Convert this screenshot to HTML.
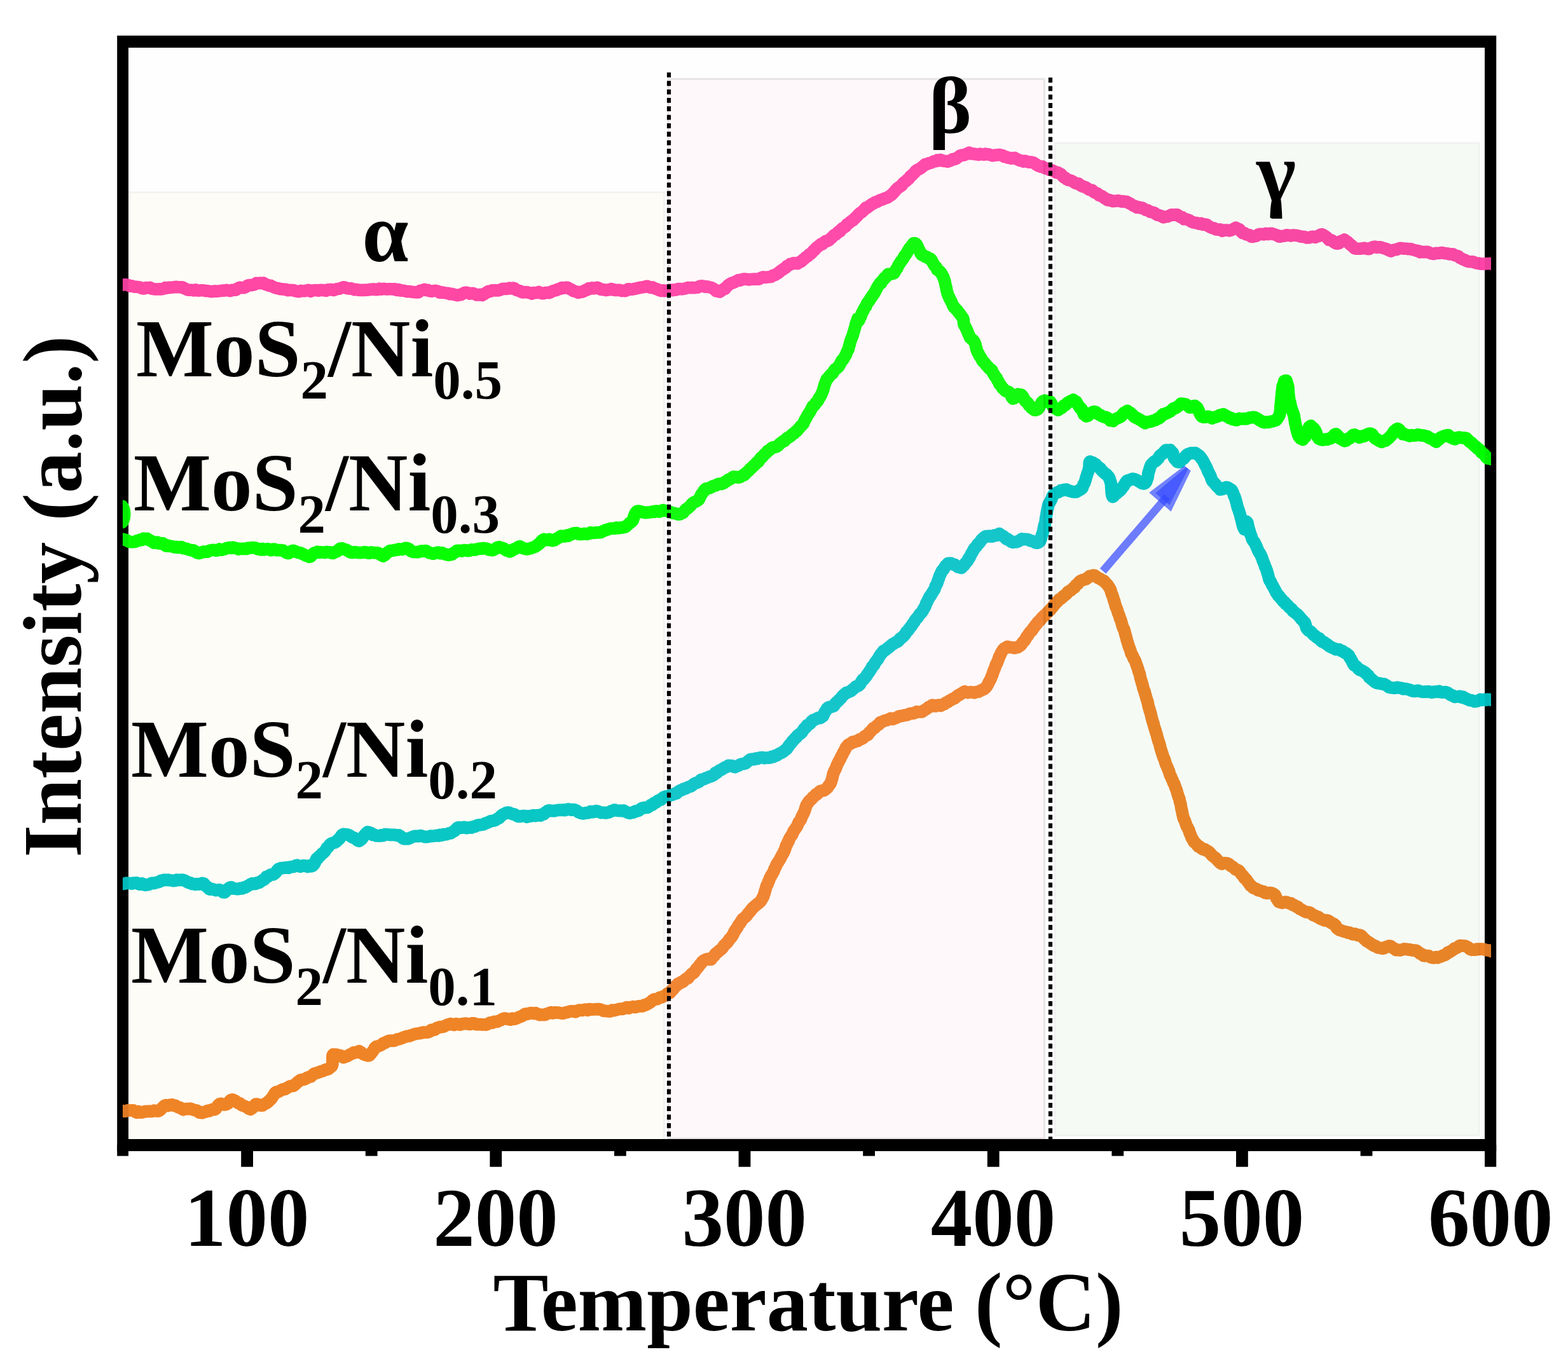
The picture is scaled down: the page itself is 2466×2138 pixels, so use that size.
<!DOCTYPE html>
<html lang="en"><head><meta charset="utf-8"><title>H2-TPR profiles</title>
<style>html,body{margin:0;padding:0;background:#fff;}body{width:2466px;height:2138px;overflow:hidden;}svg{display:block;}</style>
</head><body>
<svg width="2466" height="2138" viewBox="0 0 2466 2138">
<defs><clipPath id="plot"><rect x="193" y="65" width="2152" height="1737"/></clipPath><clipPath id="inner"><rect x="202" y="74.9" width="2133" height="1717.1"/></clipPath></defs>
<rect x="0" y="0" width="2466" height="2138" fill="#ffffff"/>
<rect x="193" y="65" width="2151" height="1736" fill="#fefefe"/>
<path fill="#000" fill-rule="evenodd" d="M184.2,55.9H2353.2V1811H184.2Z M202,74.9V1792H2335V74.9Z"/>
<g clip-path="url(#plot)" fill="none" stroke-linejoin="round" stroke-linecap="butt">
<path d="M181.0,1747.5 L182.3,1747.2 L185.4,1747.5 L189.4,1746.7 L193.0,1747.8 L195.8,1748.3 L198.6,1748.0 L201.4,1746.7 L204.3,1747.0 L207.1,1746.8 L209.8,1746.9 L212.5,1748.9 L215.2,1750.3 L217.9,1748.8 L220.6,1750.2 L223.3,1750.0 L226.1,1749.2 L228.8,1748.3 L231.5,1748.6 L234.2,1748.1 L236.9,1748.4 L239.6,1748.4 L242.4,1747.1 L245.1,1747.7 L247.7,1748.1 L250.5,1747.4 L253.2,1745.2 L255.9,1742.0 L258.6,1739.6 L261.3,1738.5 L264.3,1739.6 L267.4,1738.3 L270.5,1737.9 L273.5,1739.4 L275.9,1739.3 L278.3,1740.8 L280.7,1742.1 L283.1,1742.5 L285.7,1744.3 L288.3,1745.8 L291.1,1744.8 L293.8,1744.4 L296.6,1744.7 L299.2,1744.0 L302.1,1745.0 L305.0,1746.3 L307.7,1746.7 L310.0,1747.1 L312.8,1750.0 L315.5,1750.5 L317.9,1750.8 L320.6,1749.7 L323.5,1749.1 L326.3,1747.3 L329.1,1747.8 L331.9,1746.3 L334.6,1745.3 L337.1,1745.6 L339.3,1744.7 L341.2,1741.5 L343.1,1738.7 L345.3,1736.7 L347.8,1736.4 L350.6,1737.9 L353.5,1738.0 L356.1,1737.4 L358.6,1736.0 L361.0,1732.4 L363.2,1730.5 L365.6,1729.9 L367.9,1730.8 L370.2,1732.1 L372.6,1733.8 L375.1,1735.7 L377.7,1736.1 L380.5,1738.7 L383.3,1739.7 L385.9,1740.7 L388.7,1741.9 L391.4,1744.2 L394.0,1745.3 L396.1,1743.8 L398.0,1742.3 L399.9,1739.7 L402.2,1737.0 L404.7,1737.1 L407.4,1738.8 L410.3,1739.1 L413.0,1739.1 L415.8,1736.8 L418.6,1735.7 L421.2,1733.8 L423.8,1731.5 L425.7,1729.5 L427.4,1727.5 L429.1,1725.0 L430.8,1722.4 L432.6,1719.3 L434.7,1717.8 L437.2,1718.0 L439.9,1716.5 L442.7,1714.7 L445.5,1713.5 L448.2,1713.6 L451.0,1711.7 L453.8,1710.2 L456.5,1708.8 L459.2,1708.2 L461.8,1708.3 L464.0,1706.3 L466.1,1704.3 L468.2,1702.4 L470.3,1700.8 L472.6,1699.2 L475.2,1698.6 L477.9,1698.2 L480.6,1697.1 L483.4,1695.3 L486.1,1694.4 L488.9,1693.9 L491.6,1691.0 L494.3,1689.1 L497.0,1688.4 L499.7,1687.6 L502.4,1686.6 L505.3,1685.4 L508.1,1684.9 L510.7,1683.3 L513.2,1682.7 L516.5,1681.8 L519.5,1679.2 L521.9,1677.4 L522.8,1674.7 L523.0,1671.4 L522.9,1665.5 L522.9,1662.9 L523.2,1660.1 L524.1,1658.9 L526.3,1659.2 L529.2,1659.1 L532.2,1660.6 L534.8,1660.3 L537.5,1661.8 L540.3,1663.6 L543.0,1662.5 L545.8,1661.8 L548.5,1660.0 L551.2,1658.7 L553.9,1657.5 L556.6,1655.6 L559.4,1655.9 L562.1,1655.0 L564.7,1653.7 L567.5,1655.3 L570.1,1657.7 L572.8,1659.2 L575.5,1659.8 L578.3,1660.8 L581.0,1660.4 L582.8,1658.4 L584.5,1656.1 L586.2,1654.0 L587.9,1651.5 L589.8,1648.0 L591.8,1646.6 L594.3,1645.9 L597.0,1645.1 L599.8,1643.8 L602.6,1641.4 L605.4,1640.7 L608.0,1639.0 L610.8,1637.8 L613.5,1637.3 L616.2,1637.2 L618.9,1637.4 L621.6,1636.7 L624.3,1635.1 L627.0,1634.9 L629.7,1634.0 L632.4,1633.1 L635.2,1631.7 L637.9,1631.0 L640.6,1630.0 L643.3,1630.0 L646.0,1629.0 L648.7,1628.0 L651.4,1627.1 L654.1,1626.3 L656.8,1626.0 L659.5,1625.6 L662.2,1625.3 L665.0,1624.0 L667.7,1624.1 L670.4,1624.2 L673.1,1624.0 L675.8,1622.8 L678.5,1620.2 L681.2,1620.4 L683.9,1620.0 L686.6,1617.4 L689.3,1616.5 L692.0,1615.7 L694.6,1615.8 L697.4,1615.1 L700.2,1613.7 L702.9,1612.5 L705.7,1611.6 L708.6,1610.7 L711.5,1611.8 L714.3,1612.4 L716.9,1610.9 L720.5,1611.3 L723.9,1612.2 L727.3,1610.6 L730.2,1610.6 L733.1,1610.0 L736.3,1611.1 L739.2,1611.5 L742.3,1609.9 L745.6,1609.9 L749.0,1611.6 L752.5,1611.7 L755.5,1611.5 L758.5,1612.0 L761.7,1611.9 L764.9,1612.1 L768.0,1610.5 L771.2,1608.8 L774.2,1609.2 L777.0,1607.4 L779.7,1607.3 L782.4,1607.3 L785.1,1605.7 L787.7,1604.9 L790.4,1603.2 L793.1,1602.1 L796.3,1602.5 L799.5,1603.4 L802.7,1604.1 L805.9,1602.1 L809.1,1603.2 L812.1,1602.2 L815.0,1600.8 L817.9,1599.5 L820.7,1598.6 L823.4,1596.9 L826.0,1595.0 L828.4,1595.5 L831.1,1594.7 L833.6,1593.9 L836.5,1593.7 L839.3,1594.6 L842.4,1593.7 L845.8,1595.4 L849.2,1596.6 L852.5,1596.3 L855.5,1596.6 L858.3,1596.0 L860.9,1594.5 L863.5,1593.9 L866.3,1592.7 L869.3,1593.9 L872.6,1592.7 L875.9,1593.2 L879.2,1593.2 L882.6,1594.1 L885.8,1594.1 L889.1,1593.0 L892.3,1592.5 L895.6,1591.4 L898.8,1590.8 L902.0,1590.8 L905.2,1591.9 L908.4,1589.9 L911.7,1589.0 L915.1,1589.5 L918.0,1588.9 L921.1,1588.1 L924.3,1589.4 L927.5,1587.7 L930.7,1588.2 L933.8,1588.0 L936.7,1587.8 L940.1,1587.7 L943.4,1587.9 L946.6,1589.0 L949.8,1590.5 L953.0,1590.5 L956.2,1591.0 L959.5,1591.1 L962.8,1589.2 L966.0,1589.6 L969.3,1588.8 L972.5,1587.8 L975.8,1587.2 L979.0,1587.6 L982.2,1586.2 L985.5,1584.7 L988.8,1586.0 L992.1,1584.5 L995.4,1583.7 L998.6,1584.7 L1001.8,1583.8 L1004.6,1582.9 L1007.3,1583.0 L1010.0,1583.1 L1012.7,1581.2 L1015.3,1581.2 L1018.0,1579.7 L1020.7,1578.2 L1023.4,1576.5 L1026.1,1573.7 L1028.9,1572.1 L1031.6,1572.1 L1034.4,1571.6 L1037.2,1569.4 L1039.9,1569.1 L1042.4,1567.9 L1044.9,1566.9 L1047.3,1565.4 L1049.5,1563.4 L1051.9,1561.9 L1053.9,1561.7 L1055.9,1558.5 L1057.9,1557.4 L1059.9,1554.9 L1061.9,1551.5 L1064.1,1550.7 L1066.2,1547.7 L1068.5,1547.4 L1070.8,1545.3 L1073.1,1544.9 L1075.4,1543.4 L1077.6,1541.0 L1079.9,1539.5 L1082.2,1538.8 L1084.5,1535.6 L1086.8,1533.2 L1089.0,1531.2 L1091.2,1530.4 L1093.2,1527.4 L1095.1,1524.6 L1096.9,1522.7 L1098.8,1520.4 L1100.7,1517.7 L1102.6,1515.7 L1104.7,1512.7 L1107.3,1510.7 L1110.1,1509.5 L1112.9,1508.7 L1115.6,1509.5 L1118.3,1509.4 L1120.6,1506.1 L1122.9,1504.0 L1125.2,1500.7 L1127.4,1498.9 L1129.6,1497.2 L1131.8,1495.1 L1134.1,1493.7 L1136.4,1491.0 L1138.8,1487.4 L1141.0,1485.3 L1143.3,1483.3 L1145.4,1480.7 L1147.0,1477.7 L1148.7,1476.5 L1150.2,1474.3 L1151.7,1472.6 L1153.2,1469.6 L1154.7,1466.3 L1156.2,1464.0 L1157.7,1461.5 L1159.2,1459.8 L1160.6,1457.0 L1162.1,1454.4 L1163.6,1452.9 L1165.3,1450.1 L1167.0,1447.3 L1168.7,1445.0 L1170.5,1444.0 L1172.3,1442.5 L1174.3,1440.5 L1176.3,1437.6 L1178.3,1435.2 L1180.3,1433.1 L1182.3,1430.2 L1184.2,1428.0 L1186.0,1426.6 L1188.6,1424.2 L1191.3,1422.1 L1193.8,1420.2 L1196.1,1418.0 L1198.2,1414.6 L1199.5,1412.1 L1200.6,1410.4 L1201.5,1407.4 L1202.3,1405.5 L1203.1,1401.9 L1204.0,1399.4 L1205.0,1395.5 L1206.0,1392.6 L1207.2,1391.2 L1208.3,1387.4 L1209.5,1385.3 L1210.7,1381.4 L1211.9,1379.6 L1213.1,1377.0 L1214.4,1375.3 L1215.7,1372.8 L1217.1,1370.1 L1218.4,1366.3 L1219.8,1364.0 L1221.2,1360.4 L1222.8,1357.9 L1224.5,1355.2 L1226.1,1352.7 L1227.8,1349.6 L1229.3,1346.4 L1230.6,1344.5 L1231.7,1342.4 L1232.9,1339.7 L1234.0,1337.9 L1235.1,1334.5 L1236.3,1330.6 L1237.5,1328.6 L1238.8,1325.3 L1240.0,1323.9 L1241.3,1319.9 L1242.7,1317.5 L1244.1,1315.3 L1245.6,1313.5 L1246.9,1310.3 L1248.4,1307.1 L1249.9,1305.1 L1251.5,1302.8 L1253.1,1300.5 L1254.7,1297.4 L1256.3,1293.1 L1257.8,1291.6 L1259.4,1289.3 L1260.7,1285.6 L1262.0,1282.9 L1263.3,1280.5 L1264.5,1278.0 L1265.8,1274.9 L1267.0,1270.4 L1268.3,1266.8 L1269.7,1264.6 L1271.1,1262.5 L1272.7,1260.0 L1274.5,1258.6 L1276.6,1256.9 L1278.6,1254.1 L1280.8,1252.6 L1282.9,1249.8 L1285.0,1249.5 L1287.1,1246.9 L1289.9,1244.7 L1292.7,1243.8 L1295.4,1243.9 L1297.9,1242.2 L1299.8,1240.6 L1301.6,1239.0 L1303.2,1236.0 L1304.7,1234.6 L1306.1,1232.6 L1307.2,1229.3 L1308.1,1226.8 L1308.9,1224.3 L1309.6,1221.0 L1310.5,1216.9 L1311.5,1214.8 L1312.7,1211.9 L1314.0,1210.0 L1315.4,1206.2 L1316.8,1202.5 L1318.2,1199.8 L1319.6,1197.0 L1320.9,1194.8 L1322.3,1191.8 L1323.6,1189.2 L1324.9,1187.2 L1326.3,1183.8 L1327.7,1181.7 L1329.2,1178.9 L1330.7,1175.3 L1332.3,1173.9 L1333.9,1171.8 L1335.9,1170.6 L1338.3,1169.7 L1341.0,1167.1 L1343.8,1167.2 L1346.7,1165.9 L1349.4,1165.6 L1352.1,1163.0 L1354.9,1162.7 L1357.7,1160.8 L1360.2,1158.2 L1362.6,1156.9 L1364.8,1156.3 L1366.9,1152.9 L1369.0,1151.0 L1371.1,1148.4 L1373.3,1145.7 L1375.4,1145.2 L1377.5,1143.1 L1379.7,1141.0 L1381.9,1139.9 L1384.5,1136.3 L1387.2,1135.7 L1390.0,1134.3 L1392.8,1133.3 L1395.4,1132.8 L1398.1,1131.6 L1400.9,1130.1 L1403.6,1131.4 L1406.3,1130.4 L1409.0,1129.5 L1411.7,1128.3 L1414.4,1126.5 L1417.1,1126.5 L1419.8,1126.0 L1422.6,1125.1 L1425.3,1125.0 L1428.0,1124.2 L1430.7,1122.7 L1433.4,1122.4 L1436.1,1122.3 L1438.8,1121.5 L1441.6,1119.7 L1444.3,1120.0 L1446.9,1120.0 L1449.7,1120.0 L1452.4,1118.2 L1455.1,1116.5 L1457.7,1114.9 L1460.4,1112.5 L1463.1,1111.8 L1465.9,1109.3 L1468.6,1109.7 L1471.3,1110.9 L1474.0,1109.7 L1476.7,1109.2 L1479.5,1110.3 L1482.2,1108.5 L1484.9,1108.1 L1487.6,1105.4 L1490.3,1104.6 L1493.0,1102.5 L1495.8,1101.2 L1498.4,1099.2 L1500.6,1099.0 L1502.8,1097.3 L1505.0,1095.3 L1507.1,1093.7 L1509.3,1093.0 L1512.2,1090.8 L1515.0,1089.1 L1517.4,1087.9 L1520.0,1089.1 L1522.5,1089.6 L1525.7,1088.8 L1529.2,1089.0 L1532.6,1089.8 L1535.8,1088.6 L1539.1,1088.3 L1542.3,1086.4 L1545.2,1085.2 L1547.7,1084.0 L1550.0,1082.0 L1552.0,1079.4 L1554.0,1076.0 L1555.5,1072.6 L1556.8,1070.5 L1557.9,1068.5 L1559.1,1065.1 L1560.3,1062.8 L1561.3,1059.9 L1562.4,1056.1 L1563.4,1054.0 L1564.4,1051.5 L1565.5,1048.3 L1566.5,1045.1 L1567.8,1043.7 L1569.0,1040.3 L1570.2,1037.5 L1571.5,1033.0 L1572.8,1031.2 L1574.3,1027.4 L1575.7,1025.0 L1577.3,1022.5 L1579.1,1020.4 L1581.4,1019.6 L1584.0,1017.3 L1586.7,1018.0 L1589.6,1018.5 L1592.6,1018.6 L1595.5,1019.5 L1598.1,1018.6 L1600.6,1018.4 L1603.0,1016.4 L1605.0,1015.5 L1606.8,1013.2 L1608.7,1010.4 L1610.6,1008.6 L1612.5,1005.9 L1614.5,1002.1 L1616.5,999.9 L1618.6,996.4 L1620.6,993.9 L1622.7,992.2 L1624.7,988.8 L1626.7,986.4 L1628.7,983.5 L1630.7,981.3 L1632.5,978.7 L1634.1,977.4 L1635.8,975.9 L1637.6,973.2 L1639.5,971.2 L1641.4,969.4 L1643.5,967.6 L1645.6,965.6 L1647.8,963.2 L1650.0,961.1 L1652.1,959.0 L1654.2,956.2 L1656.3,954.3 L1658.3,950.7 L1660.4,949.0 L1662.5,946.9 L1664.7,944.5 L1666.7,942.5 L1668.8,941.4 L1670.9,939.5 L1673.0,937.5 L1675.1,936.1 L1677.2,934.4 L1679.8,931.0 L1682.3,929.7 L1684.9,928.1 L1687.4,925.6 L1689.8,924.2 L1692.4,920.3 L1694.9,918.7 L1697.4,915.4 L1699.9,913.6 L1702.8,912.5 L1705.7,911.6 L1708.7,910.7 L1711.2,908.5 L1713.7,906.3 L1716.2,906.3 L1718.7,905.2 L1721.7,905.4 L1724.7,907.6 L1727.5,909.6 L1730.5,910.7 L1733.5,912.9 L1736.4,914.0 L1738.7,917.0 L1741.1,919.2 L1743.3,922.3 L1745.2,925.3 L1746.5,927.8 L1747.5,931.2 L1748.4,934.1 L1749.3,936.4 L1750.2,938.4 L1751.0,941.2 L1751.8,944.5 L1752.7,946.1 L1753.5,949.7 L1754.3,952.4 L1755.2,955.3 L1756.2,957.2 L1757.2,959.8 L1758.3,963.9 L1759.4,966.5 L1760.4,969.0 L1761.5,973.4 L1762.6,975.1 L1763.7,979.0 L1764.7,982.7 L1765.8,986.1 L1766.8,988.7 L1767.8,990.1 L1768.7,993.2 L1769.6,997.3 L1770.4,999.6 L1771.2,1002.6 L1772.0,1006.0 L1772.8,1008.8 L1773.6,1010.9 L1774.4,1014.0 L1775.2,1016.5 L1776.0,1018.8 L1776.9,1020.7 L1777.9,1023.5 L1779.0,1028.0 L1780.2,1029.7 L1781.5,1032.0 L1782.9,1036.1 L1784.2,1037.5 L1785.6,1040.4 L1786.4,1042.8 L1787.2,1045.4 L1788.1,1047.8 L1788.9,1050.1 L1789.8,1052.3 L1790.6,1055.8 L1791.5,1058.1 L1792.4,1060.3 L1793.2,1064.8 L1794.1,1068.5 L1795.0,1070.8 L1795.9,1074.8 L1796.7,1076.6 L1797.6,1080.8 L1798.5,1083.8 L1799.4,1086.7 L1800.2,1088.0 L1801.0,1091.8 L1801.8,1093.8 L1802.6,1097.1 L1803.5,1100.3 L1804.3,1102.2 L1805.1,1105.3 L1806.0,1109.8 L1806.8,1113.1 L1807.6,1115.1 L1808.5,1119.3 L1809.3,1120.6 L1810.1,1124.2 L1810.9,1127.7 L1811.7,1131.0 L1812.5,1133.5 L1813.2,1136.3 L1814.0,1137.8 L1814.7,1141.1 L1815.6,1144.3 L1816.4,1147.1 L1817.3,1149.3 L1818.1,1152.7 L1818.9,1154.4 L1819.7,1157.7 L1820.5,1161.0 L1821.2,1163.3 L1822.0,1166.3 L1822.8,1167.8 L1823.6,1170.6 L1824.4,1173.6 L1825.3,1177.5 L1826.2,1180.1 L1827.1,1183.7 L1828.0,1185.5 L1828.9,1189.0 L1829.8,1191.2 L1830.7,1193.4 L1831.6,1195.1 L1832.5,1198.9 L1833.5,1202.1 L1834.5,1204.1 L1835.5,1206.4 L1836.5,1208.7 L1837.5,1211.4 L1838.6,1213.5 L1839.6,1217.7 L1840.6,1220.1 L1841.8,1222.1 L1843.0,1225.6 L1844.2,1227.5 L1845.4,1231.5 L1846.6,1232.6 L1847.7,1236.0 L1848.8,1239.3 L1849.7,1241.4 L1850.6,1243.4 L1851.5,1247.5 L1852.4,1250.2 L1853.2,1253.1 L1854.0,1254.7 L1854.8,1256.5 L1855.5,1261.1 L1856.3,1263.1 L1856.9,1265.5 L1857.6,1270.1 L1858.2,1273.3 L1858.8,1275.2 L1859.4,1279.0 L1860.2,1282.2 L1861.0,1286.1 L1862.0,1288.7 L1863.0,1290.2 L1864.2,1293.5 L1865.3,1296.7 L1866.5,1300.1 L1867.7,1301.6 L1868.8,1304.3 L1869.9,1305.9 L1870.9,1310.3 L1872.0,1312.0 L1873.2,1315.4 L1874.5,1318.8 L1875.9,1320.7 L1877.8,1324.5 L1879.9,1326.2 L1882.1,1328.6 L1884.4,1331.6 L1886.7,1331.8 L1889.3,1334.7 L1892.1,1336.4 L1894.9,1336.2 L1897.5,1338.3 L1899.8,1339.2 L1901.9,1340.5 L1904.1,1343.1 L1906.2,1345.8 L1908.4,1347.3 L1910.5,1349.0 L1912.6,1350.7 L1914.8,1353.4 L1916.9,1355.5 L1919.2,1357.8 L1921.8,1359.1 L1924.6,1357.8 L1927.3,1357.8 L1930.0,1358.2 L1932.8,1359.5 L1935.5,1362.0 L1938.2,1363.4 L1940.9,1365.6 L1943.1,1367.7 L1945.3,1368.6 L1947.5,1369.2 L1949.6,1371.2 L1951.7,1374.3 L1953.6,1376.7 L1955.4,1378.2 L1957.1,1381.6 L1958.9,1382.7 L1960.7,1384.7 L1962.6,1387.5 L1964.6,1390.2 L1966.8,1393.3 L1968.9,1394.4 L1971.1,1396.9 L1973.4,1397.8 L1976.0,1398.5 L1978.7,1400.8 L1981.5,1401.1 L1984.2,1402.3 L1987.0,1402.5 L1989.7,1404.6 L1992.4,1405.2 L1995.1,1404.7 L1997.9,1404.6 L2000.6,1405.2 L2003.2,1406.4 L2005.3,1407.9 L2007.2,1412.5 L2009.1,1415.6 L2011.3,1418.8 L2013.8,1419.6 L2016.5,1420.5 L2019.3,1419.5 L2022.2,1419.1 L2024.8,1419.8 L2027.5,1421.0 L2030.3,1421.0 L2033.0,1423.7 L2035.7,1424.1 L2038.5,1426.4 L2041.2,1426.7 L2043.9,1429.8 L2046.6,1430.9 L2049.3,1432.5 L2052.0,1433.9 L2054.7,1434.9 L2057.4,1435.1 L2060.1,1435.8 L2062.8,1437.6 L2065.4,1439.8 L2068.1,1440.5 L2070.9,1442.1 L2073.5,1442.7 L2076.2,1445.2 L2079.0,1446.3 L2081.8,1447.5 L2084.5,1448.3 L2087.3,1447.8 L2090.2,1449.0 L2093.0,1451.7 L2095.6,1452.7 L2098.0,1453.8 L2100.2,1455.6 L2102.1,1459.8 L2104.0,1461.1 L2106.1,1463.0 L2108.6,1463.7 L2111.4,1464.6 L2114.2,1465.7 L2117.0,1466.0 L2119.7,1467.5 L2122.4,1467.2 L2125.1,1468.8 L2127.8,1469.9 L2130.5,1469.0 L2133.3,1470.1 L2136.0,1471.7 L2138.7,1471.0 L2140.9,1472.1 L2143.0,1474.3 L2145.1,1476.6 L2147.2,1478.4 L2149.5,1480.9 L2152.1,1481.8 L2154.7,1483.9 L2157.5,1485.5 L2160.2,1487.7 L2163.0,1488.2 L2165.8,1490.1 L2168.6,1491.1 L2171.4,1491.5 L2174.1,1492.2 L2176.6,1491.8 L2179.4,1489.9 L2182.0,1489.7 L2184.7,1488.2 L2187.3,1488.6 L2189.9,1490.7 L2192.6,1492.3 L2195.5,1494.7 L2198.6,1494.2 L2201.8,1495.0 L2205.2,1494.0 L2208.6,1492.9 L2211.8,1493.3 L2214.6,1494.1 L2217.4,1493.9 L2220.0,1494.8 L2222.7,1495.2 L2225.4,1495.0 L2228.1,1495.8 L2230.8,1497.8 L2233.5,1500.4 L2236.2,1501.0 L2238.9,1503.7 L2241.6,1503.8 L2244.3,1503.5 L2247.0,1503.7 L2249.7,1505.8 L2252.4,1506.7 L2255.2,1506.9 L2258.0,1505.7 L2260.7,1506.7 L2263.4,1505.5 L2266.0,1505.1 L2268.9,1503.4 L2271.6,1502.7 L2274.2,1501.5 L2276.8,1498.6 L2279.5,1498.2 L2282.1,1495.9 L2284.8,1494.7 L2287.7,1491.9 L2290.2,1491.4 L2293.0,1490.0 L2295.7,1487.5 L2298.5,1487.7 L2301.2,1488.0 L2303.9,1488.1 L2306.6,1489.3 L2309.3,1490.6 L2312.0,1493.4 L2314.8,1494.2 L2317.4,1494.1 L2320.0,1494.2 L2322.7,1493.0 L2325.5,1493.5 L2328.3,1493.0 L2331.0,1493.0 L2333.9,1493.7 L2336.8,1494.4 L2339.6,1495.0 L2342.4,1495.1 L2345.1,1496.5 L2348.8,1497.4 L2352.7,1496.9 L2355.8,1497.0 L2357.1,1497.3" stroke="#ef8226" stroke-width="19.7"/>
<path d="M181.0,1390.1 L182.3,1390.3 L185.4,1391.3 L189.4,1390.7 L193.0,1390.4 L195.8,1390.4 L198.6,1389.2 L201.4,1389.4 L204.3,1389.6 L207.1,1390.2 L209.8,1389.0 L212.5,1389.1 L215.2,1388.9 L217.9,1390.7 L220.6,1391.3 L223.3,1390.0 L226.1,1391.7 L228.8,1392.4 L231.5,1391.9 L234.2,1391.5 L236.9,1390.2 L239.6,1389.1 L242.3,1389.7 L245.1,1388.6 L247.7,1388.1 L250.5,1387.3 L253.2,1385.5 L255.8,1385.0 L258.5,1384.2 L261.3,1384.6 L264.0,1384.2 L266.7,1384.8 L269.4,1385.0 L272.2,1385.7 L274.8,1385.5 L278.0,1384.2 L281.1,1384.6 L284.2,1384.3 L287.0,1384.2 L289.5,1385.0 L291.8,1385.9 L294.1,1387.3 L296.5,1388.6 L299.1,1388.8 L301.8,1390.6 L304.6,1390.5 L307.3,1391.5 L310.0,1390.6 L312.7,1391.2 L315.4,1391.0 L318.2,1389.4 L320.9,1390.2 L323.6,1393.7 L326.3,1395.5 L329.0,1398.7 L331.7,1399.2 L334.4,1398.7 L337.2,1399.7 L339.9,1400.6 L342.6,1400.0 L345.3,1399.9 L348.1,1401.2 L350.8,1403.6 L353.4,1403.9 L356.2,1401.0 L358.7,1398.3 L361.5,1396.2 L364.0,1395.8 L366.7,1398.0 L369.5,1397.8 L372.4,1398.7 L375.0,1398.5 L377.8,1397.4 L380.6,1397.9 L383.3,1396.2 L385.9,1396.2 L388.7,1394.1 L391.3,1392.9 L394.0,1391.1 L396.7,1389.8 L399.4,1390.6 L402.1,1390.3 L405.0,1388.5 L407.7,1388.7 L410.3,1386.4 L412.6,1384.9 L414.7,1384.2 L416.8,1382.4 L418.9,1379.4 L421.1,1379.5 L423.8,1377.1 L426.6,1375.8 L429.4,1376.0 L432.0,1374.3 L434.1,1372.2 L436.0,1369.4 L437.9,1367.2 L440.1,1366.7 L442.6,1365.5 L445.3,1365.7 L448.1,1365.1 L450.9,1364.8 L453.5,1365.4 L456.2,1364.2 L459.0,1363.6 L461.7,1363.7 L464.5,1362.0 L467.2,1361.2 L469.9,1362.7 L472.6,1363.3 L475.3,1362.2 L478.0,1361.5 L480.8,1362.5 L483.7,1363.5 L486.5,1362.0 L489.2,1362.9 L491.6,1362.3 L493.5,1360.3 L495.1,1357.5 L496.6,1354.0 L498.0,1350.9 L499.7,1350.6 L501.7,1347.5 L504.0,1346.0 L506.2,1343.1 L508.4,1342.0 L510.5,1339.8 L512.6,1336.6 L514.5,1333.5 L516.5,1332.1 L518.7,1328.8 L521.2,1326.9 L523.9,1326.0 L526.8,1325.5 L529.5,1323.6 L531.7,1320.8 L533.8,1319.7 L535.9,1316.2 L538.1,1313.3 L540.3,1312.4 L542.9,1312.8 L545.6,1312.8 L548.4,1313.8 L551.2,1315.3 L553.9,1317.2 L556.7,1318.0 L559.5,1319.7 L562.3,1322.1 L564.7,1323.1 L567.0,1321.7 L569.0,1319.8 L570.9,1317.4 L572.8,1314.3 L575.5,1311.3 L578.1,1308.8 L581.0,1309.7 L583.5,1310.7 L586.2,1313.3 L589.0,1313.2 L591.8,1315.0 L594.4,1315.0 L597.1,1315.2 L599.8,1313.8 L602.6,1314.7 L605.3,1312.7 L608.0,1312.7 L610.8,1313.0 L613.6,1313.5 L616.2,1313.3 L619.0,1313.3 L621.7,1313.6 L624.4,1314.4 L627.0,1313.9 L629.7,1315.4 L632.4,1317.8 L635.0,1319.6 L637.9,1319.4 L640.4,1319.7 L643.1,1319.4 L645.8,1317.8 L648.6,1316.7 L651.4,1315.5 L654.5,1315.4 L657.8,1315.6 L661.1,1314.5 L664.4,1315.4 L667.7,1316.6 L670.9,1316.7 L674.2,1316.3 L677.5,1315.1 L680.8,1315.3 L683.9,1314.9 L686.7,1314.3 L689.5,1315.0 L692.2,1313.4 L694.9,1314.2 L697.5,1312.6 L700.3,1312.9 L703.0,1312.4 L705.7,1311.1 L708.3,1311.0 L710.6,1309.6 L712.8,1308.2 L714.9,1307.3 L717.2,1304.5 L719.6,1302.2 L722.1,1301.7 L724.8,1302.5 L727.6,1301.7 L730.4,1301.3 L733.1,1302.6 L735.9,1302.4 L738.7,1301.6 L741.5,1302.1 L744.3,1300.6 L747.1,1300.4 L749.8,1298.7 L752.5,1297.9 L755.2,1297.8 L757.9,1297.5 L760.6,1296.9 L763.4,1295.1 L766.1,1294.5 L768.8,1293.3 L771.5,1291.8 L774.2,1291.4 L777.0,1291.1 L779.7,1289.9 L782.4,1288.0 L785.1,1286.8 L787.7,1283.9 L790.5,1281.6 L793.1,1280.4 L795.8,1279.0 L798.6,1278.1 L801.1,1278.6 L803.8,1279.9 L806.5,1280.7 L809.3,1281.2 L812.1,1283.0 L815.3,1284.5 L818.7,1284.4 L822.0,1283.7 L825.3,1283.5 L828.4,1285.3 L831.2,1283.8 L833.9,1284.1 L836.5,1283.6 L839.2,1282.6 L841.9,1283.6 L844.7,1282.7 L847.4,1282.7 L850.0,1283.1 L852.8,1281.0 L855.5,1280.7 L858.1,1277.9 L860.9,1275.9 L863.6,1274.8 L866.4,1275.7 L869.1,1275.7 L871.7,1275.8 L874.5,1275.1 L877.2,1274.5 L879.8,1274.4 L882.5,1274.4 L885.1,1274.0 L888.0,1274.7 L890.5,1274.0 L893.2,1273.0 L896.0,1273.5 L898.8,1274.3 L901.5,1273.6 L904.2,1274.2 L907.0,1275.4 L909.6,1277.6 L912.3,1278.7 L915.1,1279.5 L917.8,1279.9 L920.5,1278.8 L923.3,1278.8 L926.0,1278.7 L928.6,1276.6 L931.4,1277.6 L934.1,1277.4 L936.8,1275.9 L939.4,1276.1 L942.1,1277.0 L944.8,1278.6 L947.5,1278.3 L950.3,1278.6 L952.9,1279.0 L955.6,1278.4 L958.3,1277.8 L961.1,1276.0 L963.8,1275.5 L966.5,1274.1 L969.2,1274.8 L971.9,1275.4 L974.6,1275.4 L977.4,1275.7 L980.6,1275.0 L983.9,1276.9 L987.2,1278.4 L990.5,1279.3 L993.6,1278.4 L996.4,1278.1 L999.2,1276.2 L1001.8,1276.1 L1004.5,1275.2 L1007.2,1273.1 L1009.9,1271.2 L1012.6,1270.9 L1015.4,1270.6 L1018.1,1270.5 L1020.7,1269.1 L1023.5,1266.5 L1026.1,1266.2 L1028.7,1263.3 L1031.4,1262.7 L1034.3,1260.1 L1036.7,1258.7 L1039.1,1258.3 L1041.7,1255.8 L1044.3,1253.9 L1046.8,1253.2 L1049.4,1252.7 L1051.9,1252.2 L1054.9,1250.9 L1057.9,1250.4 L1060.9,1248.6 L1063.9,1248.3 L1066.8,1245.4 L1069.6,1243.7 L1072.3,1242.9 L1075.0,1241.2 L1077.6,1240.7 L1080.3,1239.5 L1083.0,1238.0 L1085.8,1237.3 L1088.5,1235.6 L1091.2,1233.5 L1093.9,1231.9 L1096.6,1231.3 L1099.3,1230.1 L1102.1,1226.9 L1104.8,1226.2 L1107.4,1225.6 L1110.2,1224.0 L1112.9,1223.3 L1115.5,1221.9 L1118.3,1221.3 L1120.5,1220.2 L1122.7,1218.9 L1125.0,1215.9 L1127.2,1215.9 L1129.5,1213.8 L1131.8,1211.9 L1134.5,1211.0 L1137.1,1209.2 L1139.8,1207.5 L1142.6,1206.6 L1145.4,1204.4 L1148.0,1204.6 L1150.8,1204.6 L1153.6,1206.2 L1156.3,1206.8 L1158.9,1205.3 L1161.7,1204.5 L1164.4,1202.6 L1167.0,1201.8 L1169.7,1201.6 L1172.4,1201.0 L1175.0,1198.8 L1177.7,1196.5 L1180.5,1194.5 L1183.3,1194.3 L1185.9,1194.7 L1188.6,1193.0 L1191.4,1193.7 L1194.1,1192.2 L1196.8,1191.8 L1199.5,1191.7 L1202.3,1192.7 L1205.0,1192.3 L1207.7,1192.0 L1210.4,1192.2 L1213.1,1190.6 L1215.9,1190.9 L1218.6,1189.0 L1221.3,1188.5 L1223.9,1186.8 L1226.3,1185.3 L1228.6,1184.5 L1231.0,1183.1 L1233.2,1181.3 L1235.4,1179.6 L1237.5,1178.0 L1239.5,1175.0 L1241.3,1172.3 L1243.0,1170.6 L1244.7,1168.4 L1246.4,1165.8 L1248.3,1164.1 L1250.3,1161.7 L1252.4,1160.1 L1254.6,1156.9 L1256.7,1155.5 L1258.9,1154.0 L1260.9,1152.4 L1263.2,1148.7 L1265.3,1145.6 L1267.4,1144.2 L1269.6,1140.7 L1271.8,1139.9 L1274.2,1138.2 L1276.6,1134.8 L1279.1,1132.7 L1281.7,1132.2 L1284.4,1130.5 L1287.2,1129.1 L1290.0,1129.6 L1292.5,1127.9 L1294.4,1126.6 L1295.9,1122.8 L1297.3,1120.2 L1298.9,1118.2 L1300.6,1114.7 L1303.1,1112.7 L1305.9,1112.2 L1308.8,1111.7 L1311.5,1110.6 L1313.7,1106.8 L1315.9,1104.7 L1318.0,1103.1 L1320.1,1100.5 L1322.3,1098.7 L1324.4,1095.9 L1326.6,1093.5 L1328.8,1091.6 L1331.0,1089.8 L1333.1,1089.4 L1335.9,1088.1 L1338.6,1086.8 L1341.3,1084.3 L1344.0,1082.1 L1346.2,1080.1 L1348.4,1079.5 L1350.6,1078.4 L1352.7,1076.4 L1354.8,1072.2 L1356.7,1069.2 L1358.5,1068.7 L1360.3,1066.1 L1362.1,1064.3 L1363.9,1061.2 L1365.7,1058.8 L1367.2,1056.6 L1368.8,1054.2 L1370.3,1052.2 L1371.9,1048.5 L1373.4,1047.3 L1374.9,1045.7 L1376.5,1042.2 L1378.3,1039.8 L1380.0,1037.9 L1381.8,1034.9 L1383.6,1031.7 L1385.5,1028.9 L1387.3,1027.2 L1389.4,1024.0 L1391.6,1023.4 L1393.7,1021.7 L1395.9,1019.7 L1398.2,1018.2 L1400.8,1015.9 L1403.6,1013.6 L1406.3,1012.2 L1409.0,1010.3 L1411.2,1009.6 L1413.4,1007.9 L1415.6,1004.7 L1417.7,1003.7 L1419.8,1001.7 L1421.8,999.7 L1423.7,997.5 L1425.6,994.1 L1427.4,992.5 L1429.1,990.5 L1430.7,988.2 L1432.5,985.8 L1434.2,983.7 L1436.1,980.4 L1437.7,978.7 L1439.6,975.2 L1441.6,972.9 L1443.7,970.7 L1445.8,967.2 L1447.8,965.0 L1449.6,963.2 L1451.2,961.0 L1452.6,957.6 L1453.9,956.2 L1455.3,953.4 L1456.5,949.7 L1457.8,947.4 L1459.1,944.6 L1460.5,941.8 L1462.0,938.7 L1463.6,937.3 L1465.1,934.4 L1466.7,931.8 L1468.3,929.2 L1469.8,927.1 L1471.3,922.2 L1472.6,920.1 L1473.8,917.9 L1474.9,914.2 L1476.1,911.2 L1477.2,907.5 L1478.4,904.6 L1479.6,902.3 L1480.8,899.3 L1482.2,897.0 L1483.8,895.9 L1485.5,892.8 L1487.3,889.9 L1489.1,888.6 L1491.0,886.3 L1493.0,886.2 L1495.6,886.1 L1498.4,887.8 L1501.2,888.1 L1503.8,890.1 L1506.6,892.1 L1509.4,891.9 L1512.0,893.5 L1514.1,891.3 L1516.1,889.5 L1518.1,886.4 L1520.1,884.3 L1521.6,882.5 L1523.2,878.8 L1524.7,877.6 L1526.2,874.2 L1527.7,871.2 L1529.3,868.6 L1530.9,865.6 L1532.6,862.7 L1534.4,860.9 L1536.2,858.7 L1538.0,855.8 L1539.9,854.5 L1541.8,851.9 L1543.8,848.9 L1545.9,847.1 L1548.1,845.0 L1550.3,843.6 L1552.6,844.0 L1555.3,843.1 L1558.1,844.0 L1560.8,844.0 L1563.4,842.1 L1566.2,842.5 L1568.9,841.9 L1571.6,839.6 L1574.2,841.8 L1576.9,843.0 L1579.6,844.9 L1582.4,847.9 L1585.0,848.3 L1587.6,850.1 L1590.3,852.5 L1593.2,853.2 L1595.7,852.5 L1598.4,852.7 L1601.2,851.7 L1604.0,850.1 L1606.8,847.9 L1609.5,848.2 L1612.3,848.4 L1615.1,848.6 L1617.8,849.0 L1620.4,850.9 L1623.0,851.0 L1626.0,852.3 L1628.9,853.9 L1631.6,854.1 L1633.9,853.0 L1635.5,851.7 L1636.7,848.7 L1637.6,846.0 L1638.4,842.2 L1639.3,840.0 L1640.1,837.6 L1640.9,834.6 L1641.6,830.5 L1642.3,826.7 L1643.1,825.0 L1643.6,823.0 L1644.1,820.1 L1644.6,816.5 L1645.1,813.0 L1645.6,810.7 L1646.1,807.6 L1646.6,804.6 L1647.2,801.8 L1647.8,799.3 L1648.5,795.5 L1649.3,792.7 L1650.6,791.0 L1651.9,788.5 L1653.4,785.9 L1655.0,781.4 L1657.0,778.3 L1659.4,776.4 L1662.2,774.9 L1665.1,774.0 L1668.1,771.7 L1671.0,771.5 L1674.1,770.3 L1677.3,770.2 L1680.4,771.9 L1683.3,772.6 L1686.6,773.7 L1689.7,774.0 L1692.6,774.0 L1695.1,772.4 L1697.6,770.9 L1699.9,769.8 L1701.9,768.1 L1703.3,764.5 L1704.4,761.4 L1705.5,760.2 L1706.4,757.6 L1707.2,755.2 L1708.1,751.4 L1709.2,748.3 L1710.2,744.7 L1711.2,742.7 L1712.1,739.0 L1712.8,736.5 L1713.1,734.3 L1713.2,729.8 L1713.4,727.1 L1714.3,726.1 L1716.1,727.0 L1718.5,727.7 L1721.1,729.4 L1723.6,730.6 L1726.0,734.2 L1728.3,735.3 L1730.6,737.2 L1732.9,740.4 L1735.3,742.6 L1737.8,745.0 L1740.2,746.2 L1742.2,749.1 L1743.7,750.2 L1744.9,752.5 L1745.9,756.3 L1746.8,758.4 L1747.4,761.6 L1747.7,766.4 L1747.9,770.8 L1748.1,774.0 L1748.4,776.7 L1749.0,779.5 L1749.9,781.6 L1751.5,780.7 L1753.5,778.0 L1755.6,776.6 L1757.7,774.4 L1759.5,773.4 L1761.4,771.8 L1763.3,769.9 L1765.2,766.7 L1766.9,765.1 L1768.9,761.6 L1770.8,758.5 L1772.7,756.1 L1774.7,755.7 L1777.7,754.8 L1780.9,753.3 L1783.9,753.7 L1787.0,755.1 L1790.2,756.6 L1793.4,758.6 L1796.7,760.7 L1799.5,760.8 L1801.4,759.7 L1802.9,757.4 L1804.1,753.6 L1804.9,751.6 L1805.4,748.4 L1805.9,744.3 L1806.5,742.4 L1807.2,740.4 L1808.5,736.0 L1810.0,731.8 L1811.8,729.6 L1813.6,727.9 L1815.5,726.2 L1817.5,725.4 L1819.6,723.2 L1821.8,721.1 L1824.1,717.0 L1826.5,715.0 L1828.9,713.6 L1831.2,710.5 L1833.6,708.0 L1836.0,708.0 L1838.2,708.5 L1840.5,708.0 L1842.6,710.7 L1844.4,712.2 L1845.5,716.2 L1846.3,719.9 L1847.5,721.9 L1849.3,723.6 L1851.5,726.5 L1853.6,727.1 L1855.7,726.9 L1857.7,724.4 L1859.8,721.9 L1861.7,721.4 L1863.5,719.1 L1865.5,716.6 L1867.6,714.8 L1870.5,713.6 L1873.7,712.6 L1876.9,712.8 L1880.1,712.6 L1883.2,714.9 L1886.2,716.9 L1888.3,719.6 L1890.3,722.3 L1892.2,725.3 L1893.9,728.5 L1895.3,731.4 L1896.5,733.5 L1897.7,735.8 L1898.9,738.8 L1900.1,741.9 L1901.3,744.0 L1902.5,746.5 L1903.6,748.5 L1904.9,752.4 L1906.3,756.1 L1908.0,758.1 L1909.9,760.0 L1911.9,762.4 L1914.0,765.0 L1916.5,767.0 L1919.0,770.2 L1921.8,769.6 L1924.8,768.7 L1928.0,766.5 L1931.0,767.0 L1933.2,768.8 L1935.2,769.5 L1937.1,771.1 L1938.8,774.3 L1939.9,777.0 L1940.9,780.5 L1941.8,781.5 L1942.6,783.8 L1943.4,786.6 L1944.2,789.5 L1945.0,792.3 L1945.9,796.3 L1946.8,799.4 L1947.7,801.6 L1948.5,804.0 L1949.4,806.9 L1950.3,809.6 L1951.2,813.7 L1952.2,816.8 L1953.2,821.2 L1954.3,826.1 L1955.3,829.1 L1956.2,830.9 L1957.1,832.9 L1957.8,831.6 L1958.4,826.2 L1959.0,821.9 L1959.8,820.9 L1960.5,820.7 L1961.3,821.4 L1962.1,823.0 L1963.0,827.8 L1963.9,831.6 L1964.9,834.4 L1965.9,838.0 L1966.9,841.3 L1968.0,843.6 L1969.2,847.8 L1970.5,850.4 L1971.8,852.0 L1973.2,853.6 L1974.7,856.9 L1976.1,859.7 L1977.5,863.4 L1978.8,866.5 L1980.1,869.0 L1981.3,870.5 L1982.6,872.7 L1983.8,875.5 L1985.0,878.2 L1986.2,882.3 L1987.4,884.9 L1988.6,887.8 L1989.6,891.5 L1990.6,892.9 L1991.5,895.7 L1992.4,897.6 L1993.2,901.4 L1994.0,902.9 L1994.9,907.0 L1995.8,910.3 L1996.7,913.2 L1997.8,914.1 L1999.1,916.7 L2000.6,920.4 L2002.0,922.1 L2003.6,925.3 L2005.2,928.1 L2006.9,931.9 L2008.6,934.1 L2010.4,937.1 L2012.3,938.4 L2014.2,941.4 L2016.2,943.2 L2018.2,946.4 L2020.2,947.0 L2022.2,950.3 L2024.4,951.6 L2026.6,954.2 L2028.8,956.5 L2031.1,957.9 L2033.4,961.4 L2035.7,963.0 L2037.8,964.8 L2040.0,966.2 L2042.3,968.6 L2044.7,971.4 L2046.9,974.4 L2048.9,976.0 L2050.6,978.6 L2052.0,979.3 L2053.0,981.9 L2053.6,984.4 L2054.7,988.0 L2056.3,990.4 L2058.3,992.4 L2060.7,993.1 L2063.2,995.6 L2065.8,998.8 L2068.2,1000.1 L2070.4,1002.3 L2072.7,1003.9 L2074.9,1004.3 L2077.2,1007.7 L2079.5,1009.6 L2081.8,1009.9 L2084.0,1011.9 L2086.2,1013.0 L2088.5,1014.7 L2090.7,1016.7 L2093.0,1017.8 L2095.3,1019.0 L2098.0,1020.1 L2100.7,1021.6 L2103.5,1021.6 L2106.3,1021.9 L2108.9,1023.8 L2111.8,1024.4 L2114.6,1026.8 L2117.3,1027.8 L2119.7,1029.9 L2121.3,1031.0 L2122.6,1034.3 L2123.8,1035.6 L2125.0,1037.9 L2126.3,1040.2 L2127.8,1043.7 L2129.8,1046.6 L2131.9,1047.5 L2134.1,1049.5 L2136.4,1052.3 L2138.7,1054.0 L2140.8,1054.4 L2143.0,1055.7 L2145.2,1057.0 L2147.3,1058.4 L2149.5,1060.7 L2151.6,1062.1 L2153.7,1065.9 L2155.8,1067.5 L2158.0,1069.4 L2160.3,1071.4 L2162.9,1073.3 L2165.5,1074.7 L2168.3,1074.9 L2171.1,1075.3 L2173.9,1076.2 L2176.5,1076.1 L2179.2,1077.5 L2181.9,1079.2 L2184.6,1081.1 L2187.4,1081.8 L2190.6,1082.2 L2193.8,1082.5 L2197.1,1081.4 L2200.4,1082.0 L2203.7,1082.5 L2206.9,1083.9 L2210.2,1083.5 L2213.4,1084.3 L2216.7,1085.2 L2219.9,1086.5 L2223.2,1087.4 L2226.6,1087.3 L2229.9,1086.3 L2233.1,1087.5 L2236.2,1088.5 L2239.0,1088.4 L2241.7,1088.1 L2244.3,1088.5 L2247.0,1087.8 L2249.6,1088.7 L2252.3,1089.4 L2255.1,1088.3 L2257.8,1088.2 L2260.6,1088.5 L2263.3,1087.4 L2266.0,1089.0 L2268.7,1089.3 L2271.4,1088.9 L2274.1,1088.9 L2276.8,1089.9 L2279.5,1091.9 L2282.2,1093.8 L2284.9,1094.3 L2287.7,1096.4 L2290.4,1096.0 L2293.1,1096.0 L2295.8,1095.3 L2298.5,1097.1 L2301.2,1096.3 L2303.9,1098.5 L2306.6,1099.5 L2309.3,1100.7 L2312.0,1101.8 L2314.8,1101.8 L2317.4,1103.2 L2320.1,1103.7 L2322.8,1103.1 L2325.5,1102.1 L2328.3,1100.4 L2331.0,1101.3 L2333.9,1100.3 L2336.8,1101.3 L2339.6,1100.2 L2342.4,1100.4 L2345.1,1101.2 L2348.8,1099.9 L2352.7,1100.3 L2355.8,1099.3 L2357.1,1098.7" stroke="#00c8ca" stroke-width="19.7"/>
<path d="M181.0,849.4 L182.3,849.8 L185.5,849.9 L189.4,848.7 L193.0,848.0 L195.8,849.0 L198.7,849.6 L201.5,851.6 L204.4,852.5 L207.1,852.7 L209.9,852.5 L212.6,852.4 L215.3,850.8 L217.9,850.4 L220.6,849.0 L223.3,849.4 L226.0,847.1 L228.8,848.0 L231.4,847.3 L234.1,849.5 L236.8,850.6 L239.5,852.1 L242.3,854.2 L245.0,853.3 L247.7,853.0 L250.4,855.0 L253.2,855.1 L255.9,854.6 L258.6,857.1 L261.3,858.8 L264.0,858.2 L266.7,859.2 L269.4,859.3 L272.1,859.9 L274.8,860.9 L277.5,860.3 L280.2,861.5 L283.0,860.6 L285.7,860.9 L288.4,862.8 L291.1,863.0 L293.8,863.5 L296.5,864.5 L299.2,865.2 L301.9,865.9 L304.6,865.9 L307.3,867.9 L310.0,869.6 L312.7,870.3 L315.4,869.8 L318.2,868.6 L320.9,867.9 L323.6,868.3 L326.3,868.1 L329.0,866.5 L331.7,865.7 L334.4,865.4 L337.1,865.4 L339.8,866.1 L342.6,865.5 L345.3,864.0 L348.0,865.1 L350.7,864.4 L353.4,863.9 L356.1,862.5 L358.8,862.0 L361.5,861.4 L364.2,862.1 L366.9,861.2 L369.5,862.3 L372.2,862.5 L374.9,864.1 L377.8,863.3 L380.8,863.3 L384.0,863.2 L387.2,863.5 L390.5,862.0 L393.7,862.1 L396.7,861.5 L399.6,861.6 L402.3,862.3 L405.0,863.9 L407.6,863.7 L410.3,864.8 L413.0,863.5 L415.7,864.8 L418.4,864.1 L421.1,863.5 L423.8,864.7 L426.5,865.7 L429.3,864.1 L432.0,864.2 L434.7,865.6 L437.4,865.5 L440.1,865.6 L442.8,865.6 L445.5,866.2 L448.2,868.1 L450.9,869.9 L453.6,870.4 L456.4,869.0 L459.1,866.8 L461.8,866.3 L464.5,867.4 L467.3,868.7 L470.1,869.6 L472.9,869.8 L475.5,871.4 L478.0,872.4 L480.8,874.0 L483.5,874.5 L486.1,876.1 L488.7,875.6 L491.4,872.2 L494.1,869.8 L497.0,869.6 L499.5,868.2 L502.2,869.2 L505.0,868.7 L507.8,869.0 L510.5,869.3 L513.2,868.4 L516.0,868.6 L518.7,868.8 L521.4,870.0 L524.1,870.3 L526.8,868.2 L529.5,867.8 L532.1,865.4 L534.8,863.2 L537.6,862.6 L540.2,864.1 L542.9,864.5 L545.6,865.5 L548.4,867.4 L551.1,868.9 L553.9,869.3 L557.1,868.7 L560.4,868.8 L563.7,869.5 L567.0,869.6 L570.1,869.2 L572.9,868.7 L575.7,868.8 L578.4,869.9 L581.1,870.1 L583.7,868.8 L586.5,869.5 L589.3,869.8 L592.0,869.5 L594.5,869.9 L597.3,871.8 L599.8,873.4 L602.6,874.9 L605.1,873.4 L607.7,870.6 L610.5,868.6 L613.4,866.4 L616.2,866.4 L618.9,865.9 L621.6,865.2 L624.4,865.2 L627.1,863.9 L629.7,864.2 L632.5,864.3 L635.3,863.2 L637.9,862.2 L640.6,862.5 L643.3,863.7 L645.9,866.7 L648.6,867.9 L651.4,868.5 L654.0,868.5 L656.7,868.6 L659.4,867.9 L662.2,866.8 L665.0,867.1 L667.7,866.6 L670.4,866.6 L673.1,868.6 L675.8,870.0 L678.5,870.2 L681.2,871.2 L683.9,870.4 L686.6,869.5 L689.3,869.1 L692.0,870.5 L694.8,869.6 L697.5,870.8 L700.3,871.9 L703.0,872.6 L705.6,873.2 L708.2,872.2 L710.7,872.3 L713.1,870.2 L715.6,868.9 L718.2,866.6 L720.8,866.2 L723.5,866.3 L726.2,866.9 L729.0,865.7 L731.8,865.6 L734.8,866.3 L737.9,866.4 L741.0,864.9 L744.1,864.8 L747.1,865.0 L749.9,863.9 L752.6,863.5 L755.3,862.9 L758.0,863.2 L760.6,862.4 L763.4,863.0 L766.1,863.2 L768.9,865.0 L771.6,865.2 L774.2,865.7 L776.9,864.7 L779.5,863.1 L782.2,861.2 L785.0,860.5 L787.6,861.7 L790.3,862.3 L793.1,863.1 L795.9,865.9 L798.6,866.3 L801.3,867.9 L804.1,866.9 L806.8,864.8 L809.4,863.8 L812.1,862.6 L814.8,860.5 L817.5,859.6 L820.2,861.0 L822.9,862.7 L825.7,863.3 L828.4,864.0 L831.1,863.2 L833.9,863.0 L836.6,861.7 L839.3,861.0 L841.9,859.9 L844.3,858.4 L846.5,856.4 L848.7,855.2 L850.9,852.0 L853.1,849.8 L855.5,848.5 L858.1,849.7 L860.8,849.4 L863.6,848.5 L866.3,850.1 L869.0,850.6 L871.7,850.0 L874.4,847.8 L877.1,846.9 L879.8,844.9 L882.6,843.1 L885.3,843.9 L888.0,844.0 L890.8,842.4 L893.5,843.1 L896.1,841.1 L898.9,840.5 L901.7,839.2 L904.4,838.7 L906.9,838.5 L909.7,840.2 L912.2,840.5 L915.1,840.4 L917.6,839.9 L920.2,839.6 L923.0,840.3 L925.8,839.6 L928.6,837.9 L931.3,838.5 L934.0,838.3 L936.8,837.9 L939.5,837.8 L942.2,837.7 L944.9,837.4 L947.6,836.0 L950.3,835.0 L953.0,833.7 L955.7,833.1 L958.4,832.0 L961.1,831.4 L963.8,831.3 L966.5,831.4 L969.3,830.2 L972.0,831.0 L974.8,830.1 L977.6,830.3 L980.3,829.6 L982.8,829.3 L985.2,827.7 L987.5,825.5 L989.7,823.4 L991.7,821.9 L993.6,820.4 L995.4,818.2 L996.9,813.5 L998.3,809.4 L999.9,806.4 L1001.8,804.5 L1004.2,804.0 L1006.9,804.4 L1009.7,805.7 L1012.6,805.9 L1015.3,806.7 L1018.1,806.1 L1020.9,806.1 L1023.6,805.6 L1026.1,804.8 L1029.0,805.4 L1031.5,804.0 L1034.3,804.0 L1036.9,805.1 L1039.8,804.0 L1042.5,802.5 L1045.1,803.2 L1048.5,803.5 L1051.9,804.9 L1054.9,805.8 L1058.1,807.1 L1061.4,807.5 L1064.0,808.4 L1066.7,809.2 L1069.5,808.9 L1072.2,807.5 L1074.5,806.5 L1076.7,803.6 L1079.0,800.9 L1081.2,800.1 L1083.5,797.8 L1085.7,796.0 L1088.1,792.7 L1090.5,790.8 L1092.8,789.6 L1095.2,788.7 L1097.3,787.4 L1099.3,785.5 L1101.1,781.9 L1102.6,778.6 L1104.0,776.6 L1105.6,774.6 L1107.4,771.6 L1109.9,769.0 L1112.5,768.6 L1115.4,767.9 L1118.3,766.6 L1120.9,765.1 L1123.6,764.1 L1126.4,763.6 L1129.2,761.6 L1131.8,761.1 L1134.6,761.4 L1137.3,760.5 L1140.0,758.4 L1142.6,757.1 L1145.4,754.6 L1148.0,753.8 L1150.7,752.2 L1153.5,750.0 L1156.2,750.2 L1158.9,750.8 L1161.7,751.2 L1164.3,750.4 L1166.6,749.0 L1168.8,747.4 L1170.9,747.1 L1173.0,744.3 L1175.2,742.5 L1177.4,740.6 L1179.5,738.0 L1181.7,736.4 L1183.9,734.0 L1186.0,732.1 L1188.2,730.0 L1190.4,727.5 L1192.5,726.5 L1194.6,723.1 L1196.8,720.3 L1199.0,718.7 L1201.1,716.1 L1203.2,714.0 L1205.4,712.2 L1207.7,709.1 L1210.3,708.1 L1213.0,705.4 L1215.8,703.8 L1218.5,703.5 L1221.2,702.8 L1223.9,700.9 L1226.6,697.9 L1229.3,696.1 L1231.5,694.2 L1233.7,693.8 L1235.9,691.3 L1238.0,689.1 L1240.2,688.2 L1242.4,686.8 L1244.5,685.0 L1246.7,682.8 L1248.9,681.9 L1251.0,679.2 L1253.2,678.0 L1255.5,675.0 L1257.7,672.7 L1259.8,670.1 L1261.8,668.3 L1263.5,666.3 L1265.0,662.6 L1266.4,660.0 L1267.8,657.8 L1269.3,654.7 L1270.8,652.2 L1272.3,649.9 L1273.8,647.8 L1275.4,644.7 L1276.9,641.9 L1278.5,638.7 L1280.1,638.1 L1281.7,636.3 L1283.3,633.3 L1284.9,632.1 L1286.5,630.2 L1288.1,626.3 L1289.6,624.8 L1291.1,621.9 L1292.5,618.8 L1293.7,615.9 L1294.7,613.4 L1295.6,609.8 L1296.5,606.6 L1297.4,603.7 L1298.4,601.4 L1299.4,598.6 L1300.6,596.0 L1302.2,595.1 L1304.0,592.4 L1305.8,590.3 L1307.7,588.5 L1309.6,587.3 L1311.5,583.6 L1313.3,581.0 L1315.1,580.1 L1317.0,578.6 L1318.8,576.8 L1320.6,573.7 L1322.3,570.5 L1324.0,567.2 L1325.6,566.0 L1327.3,563.6 L1328.9,560.5 L1330.4,558.1 L1331.8,554.2 L1333.1,551.5 L1334.3,549.3 L1335.4,544.4 L1336.4,541.5 L1337.3,537.3 L1338.2,535.3 L1338.9,533.1 L1339.7,530.9 L1341.3,527.3 L1342.0,523.9 L1343.0,521.4 L1344.0,517.5 L1345.2,513.4 L1346.3,508.5 L1347.4,506.4 L1348.3,503.1 L1349.0,501.0 L1349.4,500.9 L1349.3,503.9 L1349.4,505.9 L1350.0,505.0 L1351.0,503.9 L1352.3,500.5 L1353.8,498.1 L1355.4,492.9 L1357.0,490.3 L1358.7,486.7 L1360.2,483.9 L1361.6,482.4 L1363.1,478.5 L1364.6,475.9 L1366.1,474.3 L1367.6,472.1 L1369.1,469.3 L1370.7,467.4 L1372.2,464.9 L1373.8,463.1 L1375.5,460.2 L1377.2,456.9 L1378.9,453.8 L1380.6,450.6 L1382.3,448.0 L1384.1,445.4 L1385.7,445.3 L1387.3,442.1 L1389.3,440.3 L1391.1,437.0 L1392.9,436.4 L1394.8,434.1 L1396.8,431.4 L1399.9,431.1 L1403.2,430.7 L1406.3,429.6 L1408.0,426.2 L1409.6,423.7 L1411.1,421.6 L1412.6,418.1 L1414.1,415.6 L1415.6,413.3 L1417.1,411.1 L1418.9,408.9 L1420.7,406.3 L1422.5,402.6 L1424.3,400.8 L1426.1,397.9 L1428.0,394.7 L1430.1,391.0 L1432.3,388.8 L1434.5,385.7 L1436.7,382.8 L1438.8,382.7 L1440.4,383.5 L1441.9,385.2 L1443.3,388.3 L1444.7,391.5 L1446.3,394.6 L1447.9,398.5 L1449.6,401.0 L1452.2,401.6 L1455.0,403.9 L1457.9,404.2 L1460.7,406.7 L1463.2,407.0 L1465.0,408.9 L1466.6,412.5 L1468.1,415.0 L1469.6,417.6 L1471.0,419.0 L1472.5,420.6 L1474.0,424.5 L1476.0,425.4 L1478.0,427.0 L1480.0,429.4 L1481.9,432.7 L1483.5,435.4 L1484.6,438.8 L1485.5,441.6 L1486.2,443.9 L1486.9,447.9 L1487.5,450.2 L1488.1,452.3 L1488.9,457.0 L1489.8,460.4 L1490.6,463.0 L1491.5,465.3 L1492.5,467.2 L1493.5,469.5 L1494.5,471.5 L1495.7,473.7 L1497.2,477.0 L1498.7,480.5 L1500.4,483.3 L1502.1,484.6 L1503.8,486.9 L1505.7,488.6 L1507.7,491.5 L1509.8,493.9 L1511.8,496.9 L1513.4,499.2 L1514.7,501.1 L1515.4,503.4 L1515.5,504.9 L1515.6,507.8 L1516.0,510.3 L1517.2,512.5 L1518.6,515.0 L1520.1,518.2 L1521.3,520.6 L1522.6,524.5 L1524.0,527.1 L1525.5,531.0 L1528.2,533.4 L1530.9,535.7 L1532.0,537.2 L1533.0,539.4 L1534.0,541.6 L1535.0,546.1 L1535.9,549.8 L1536.9,552.5 L1538.0,555.1 L1539.1,556.4 L1540.5,559.8 L1542.1,561.9 L1543.7,564.6 L1545.3,567.8 L1547.2,569.6 L1549.2,571.7 L1551.4,574.9 L1553.6,576.8 L1555.9,579.9 L1558.0,580.9 L1559.7,582.2 L1561.3,586.2 L1562.9,588.5 L1564.4,591.1 L1565.9,593.3 L1567.4,594.6 L1568.9,598.4 L1570.5,600.8 L1572.0,604.4 L1573.5,605.7 L1575.1,608.0 L1577.0,610.9 L1579.0,612.3 L1581.3,615.2 L1583.7,615.8 L1585.9,616.5 L1587.8,617.9 L1589.7,620.7 L1591.3,625.0 L1593.2,627.1 L1595.7,626.2 L1598.5,623.5 L1601.4,620.2 L1604.1,620.9 L1606.3,621.1 L1608.3,623.3 L1610.2,626.7 L1612.2,630.6 L1614.2,632.0 L1616.2,633.6 L1618.2,637.7 L1620.3,638.5 L1622.3,641.8 L1624.3,643.2 L1626.4,644.9 L1628.5,645.2 L1630.3,644.7 L1632.2,643.8 L1634.1,641.3 L1636.0,637.7 L1638.0,633.6 L1640.0,631.4 L1643.1,630.1 L1646.2,630.8 L1649.3,632.1 L1651.4,631.8 L1653.4,634.4 L1655.4,639.0 L1657.4,640.8 L1659.5,642.5 L1661.7,643.8 L1664.3,645.1 L1667.1,642.9 L1670.0,641.6 L1672.9,638.3 L1675.6,637.2 L1678.2,634.4 L1680.7,632.8 L1683.2,631.2 L1685.6,630.3 L1688.0,629.0 L1690.3,630.9 L1692.6,632.1 L1694.7,635.7 L1696.8,639.0 L1698.8,642.1 L1700.4,642.6 L1701.9,644.9 L1703.3,648.6 L1704.7,652.0 L1706.3,652.9 L1708.1,654.8 L1710.9,654.2 L1714.1,651.2 L1717.3,649.0 L1720.5,647.7 L1723.6,648.4 L1726.8,651.3 L1729.9,652.8 L1732.9,654.6 L1736.2,656.1 L1739.3,656.3 L1742.2,657.9 L1744.3,659.7 L1746.2,661.7 L1748.4,661.3 L1750.6,662.3 L1753.0,660.0 L1755.6,658.7 L1758.2,657.6 L1760.8,656.4 L1763.3,655.0 L1765.8,651.7 L1768.3,649.0 L1770.7,648.2 L1773.1,646.3 L1775.3,648.4 L1777.5,649.3 L1779.6,651.2 L1781.7,653.2 L1784.0,656.0 L1786.6,657.0 L1789.4,658.5 L1792.2,660.0 L1795.1,661.6 L1797.9,663.8 L1801.0,665.7 L1804.1,663.8 L1807.2,663.7 L1810.3,662.9 L1813.5,662.0 L1816.6,661.0 L1819.7,659.1 L1822.7,658.1 L1825.0,656.3 L1827.1,653.8 L1829.2,651.7 L1831.3,651.6 L1833.5,650.2 L1835.9,649.6 L1838.3,648.3 L1840.8,647.0 L1843.4,644.5 L1845.9,642.4 L1848.7,642.2 L1851.5,640.1 L1854.3,638.1 L1857.1,635.1 L1859.8,635.3 L1862.6,635.8 L1865.3,636.3 L1867.9,637.9 L1870.7,640.9 L1873.5,640.9 L1876.4,639.2 L1879.1,638.3 L1881.5,640.3 L1883.1,641.6 L1884.4,644.4 L1885.5,646.6 L1886.5,649.2 L1887.7,652.1 L1889.9,655.1 L1892.3,656.3 L1894.8,656.1 L1897.5,656.0 L1900.1,655.3 L1903.2,656.2 L1906.3,658.0 L1909.3,656.4 L1912.5,655.9 L1915.6,654.8 L1918.7,652.9 L1921.8,652.5 L1923.9,651.6 L1926.2,653.0 L1928.6,654.8 L1931.0,655.3 L1933.6,657.9 L1936.3,657.6 L1939.0,659.9 L1941.9,660.4 L1944.9,661.0 L1948.3,658.5 L1951.7,658.9 L1954.7,659.0 L1957.1,658.6 L1960.0,658.8 L1962.4,658.3 L1965.4,657.0 L1968.6,656.8 L1971.6,656.3 L1974.5,657.1 L1977.4,658.5 L1980.3,660.7 L1983.2,662.3 L1986.1,664.0 L1989.1,664.6 L1992.0,663.9 L1994.8,664.4 L1998.2,663.3 L2001.5,662.8 L2004.5,661.9 L2007.1,661.0 L2009.4,657.8 L2011.3,654.9 L2012.2,652.7 L2012.8,651.2 L2013.2,647.8 L2013.5,645.5 L2013.7,643.5 L2013.9,639.8 L2014.2,636.2 L2014.6,633.5 L2014.9,630.0 L2015.2,626.6 L2015.5,622.7 L2015.8,620.5 L2016.1,617.1 L2016.4,615.4 L2016.7,612.0 L2017.0,609.3 L2017.4,607.4 L2018.1,605.6 L2019.9,599.6 L2021.9,598.9 L2023.2,598.9 L2024.4,603.3 L2025.4,606.9 L2025.9,608.4 L2026.2,612.0 L2026.3,615.2 L2026.5,618.1 L2026.8,621.6 L2027.2,624.4 L2027.7,627.9 L2028.3,631.2 L2028.9,632.8 L2029.7,636.7 L2030.5,640.3 L2031.6,644.0 L2032.6,646.6 L2033.6,649.5 L2034.5,651.5 L2035.2,654.3 L2035.8,658.9 L2036.3,660.7 L2036.8,665.2 L2037.4,667.1 L2038.1,670.3 L2038.7,674.2 L2039.4,676.3 L2040.3,679.8 L2041.3,683.6 L2043.0,686.9 L2045.0,689.5 L2047.1,690.5 L2049.0,691.7 L2051.1,688.6 L2052.9,687.1 L2054.1,684.8 L2054.9,680.9 L2055.7,678.1 L2056.8,675.9 L2059.0,671.7 L2061.6,669.8 L2063.8,672.4 L2066.2,674.0 L2068.4,677.2 L2069.8,680.0 L2071.1,684.1 L2072.4,687.7 L2074.2,690.1 L2077.1,691.5 L2080.5,692.1 L2083.9,691.1 L2087.1,691.3 L2090.4,690.2 L2093.5,689.5 L2096.2,686.9 L2098.8,683.7 L2101.3,682.9 L2103.3,685.0 L2105.2,686.8 L2107.1,689.5 L2109.0,690.1 L2111.9,692.5 L2114.8,693.8 L2117.3,693.1 L2119.9,690.1 L2122.6,689.6 L2125.1,687.2 L2127.7,684.6 L2130.3,683.9 L2132.9,685.1 L2135.5,686.9 L2138.0,688.2 L2140.6,686.3 L2143.2,686.7 L2145.8,686.0 L2148.3,684.2 L2150.9,683.1 L2153.5,682.0 L2155.9,682.3 L2158.3,683.4 L2160.7,687.5 L2163.2,690.1 L2165.6,691.1 L2168.0,693.0 L2170.4,694.2 L2172.9,695.3 L2176.2,693.7 L2179.5,693.2 L2182.5,690.3 L2184.7,688.8 L2186.5,686.6 L2188.4,684.6 L2190.3,682.0 L2192.8,677.9 L2195.4,676.2 L2198.0,674.4 L2200.6,676.0 L2203.1,679.5 L2205.8,682.8 L2208.3,682.6 L2210.8,684.0 L2213.5,684.6 L2216.6,685.8 L2219.9,684.7 L2223.2,685.2 L2226.4,685.0 L2229.7,683.8 L2232.9,684.4 L2236.1,685.2 L2239.4,685.2 L2242.5,686.3 L2245.2,686.8 L2247.7,689.2 L2250.3,689.8 L2253.2,691.0 L2256.1,693.5 L2259.0,695.1 L2261.2,692.6 L2263.4,691.3 L2265.5,688.3 L2267.7,687.5 L2270.2,686.4 L2272.8,685.5 L2275.4,684.8 L2277.8,684.5 L2280.2,687.5 L2282.6,688.2 L2285.1,689.9 L2288.3,690.8 L2291.5,688.6 L2294.8,688.0 L2297.7,688.5 L2300.7,688.9 L2303.7,688.8 L2306.4,689.7 L2309.2,692.7 L2311.6,695.2 L2314.1,696.4 L2316.5,698.9 L2319.0,701.5 L2321.5,703.1 L2323.8,705.7 L2325.9,706.6 L2327.8,708.4 L2329.7,711.8 L2331.6,712.9 L2333.5,714.3 L2335.3,716.0 L2337.4,719.3 L2339.6,721.2 L2342.0,720.9 L2344.7,722.3 L2347.5,721.8 L2350.5,722.7 L2353.6,721.6 L2356.7,722.5 L2360.3,723.4 L2364.2,723.1 L2367.4,723.3 L2368.7,722.1" stroke="#00ff00" stroke-width="19.7"/>
<path d="M181.0,447.7 L182.2,448.4 L185.2,448.6 L189.1,449.2 L193.0,448.0 L195.6,447.8 L198.4,447.8 L201.4,448.3 L204.5,450.2 L207.7,449.9 L211.0,451.1 L214.3,451.2 L217.5,451.6 L220.6,452.3 L223.7,453.7 L226.7,453.9 L229.7,452.6 L232.7,452.7 L235.7,452.4 L238.7,454.1 L241.7,454.7 L244.7,454.9 L247.7,455.0 L250.7,454.7 L253.8,454.9 L256.8,454.4 L259.8,452.6 L262.8,453.1 L265.8,452.2 L268.8,452.4 L271.8,452.0 L274.8,451.6 L277.8,451.4 L280.8,451.7 L283.9,451.9 L286.9,451.8 L289.9,453.7 L292.9,454.9 L295.9,456.2 L298.9,456.3 L301.9,456.2 L304.9,456.9 L307.9,455.9 L310.9,457.0 L313.9,457.1 L317.0,456.8 L320.0,456.8 L323.0,457.7 L326.0,457.6 L329.0,458.1 L332.0,458.7 L335.0,458.5 L338.0,457.8 L341.1,458.3 L344.1,457.8 L347.1,457.5 L350.1,457.1 L353.1,457.2 L356.1,456.3 L359.1,457.0 L362.2,457.7 L365.2,456.3 L368.2,456.1 L371.2,456.1 L374.2,453.5 L377.2,452.2 L380.2,452.8 L383.2,452.7 L386.1,451.7 L388.9,449.6 L391.8,448.6 L394.6,448.7 L397.5,448.3 L400.3,447.5 L403.1,445.4 L406.0,445.9 L408.9,445.1 L411.7,445.8 L414.5,445.1 L417.4,447.4 L420.2,448.1 L423.1,449.4 L426.0,449.4 L428.8,451.0 L431.7,452.2 L434.5,453.2 L437.4,453.5 L440.4,454.8 L443.4,454.9 L446.4,455.1 L449.4,455.2 L452.4,456.8 L455.4,456.3 L458.4,456.6 L461.5,456.5 L464.5,457.9 L467.5,458.4 L470.5,458.6 L473.5,457.4 L476.5,457.8 L479.5,457.7 L482.5,456.9 L485.5,456.2 L488.6,458.3 L491.6,457.0 L494.6,456.8 L497.6,456.6 L500.7,457.3 L503.7,456.2 L506.7,456.6 L509.7,456.5 L512.7,457.4 L515.7,455.7 L518.7,455.6 L521.8,455.6 L524.8,456.5 L527.8,455.4 L530.8,454.5 L533.8,454.2 L536.8,453.0 L539.9,451.7 L543.0,452.3 L545.9,453.7 L548.8,454.2 L551.8,453.6 L554.8,454.7 L557.8,455.9 L560.9,455.4 L563.9,456.3 L566.9,456.4 L569.9,456.3 L572.8,456.4 L575.9,456.1 L578.9,456.2 L582.0,455.3 L585.0,455.5 L588.0,454.7 L590.9,455.7 L593.9,455.6 L596.9,454.1 L599.9,455.2 L603.0,454.3 L606.0,454.7 L609.1,455.1 L612.1,454.8 L615.2,454.7 L618.2,455.1 L621.2,454.7 L624.2,456.5 L627.0,455.6 L630.3,457.3 L633.5,457.1 L636.6,457.7 L639.7,458.6 L642.7,458.5 L645.7,458.8 L648.7,459.4 L651.9,459.5 L655.0,460.0 L658.0,459.9 L661.1,457.1 L664.3,456.6 L667.7,455.4 L670.5,456.7 L673.3,456.4 L676.3,457.9 L679.4,458.1 L682.4,457.5 L685.5,457.3 L688.6,458.2 L691.7,460.3 L694.8,459.7 L697.8,460.5 L701.0,460.9 L704.2,461.2 L707.4,462.7 L710.6,462.2 L713.7,463.3 L716.6,463.8 L719.3,464.6 L721.8,463.8 L725.1,463.7 L728.0,461.7 L730.7,460.5 L733.5,460.1 L736.2,460.9 L738.9,462.1 L741.6,461.4 L744.4,461.6 L747.1,462.8 L749.8,464.0 L752.5,464.0 L755.2,463.4 L758.0,464.5 L760.6,463.1 L763.3,461.4 L766.0,459.8 L768.6,458.2 L771.3,458.5 L774.2,456.7 L777.2,456.9 L780.4,456.9 L783.6,456.9 L786.9,456.1 L790.1,454.5 L793.1,454.2 L796.0,454.4 L798.7,454.2 L801.4,453.1 L804.1,453.9 L806.7,453.0 L809.4,453.7 L812.1,456.4 L814.8,457.2 L817.5,457.7 L820.2,459.6 L822.9,460.0 L825.6,459.5 L828.4,459.6 L831.1,460.3 L833.8,460.8 L836.6,462.1 L839.4,460.5 L842.2,460.7 L844.8,460.5 L847.3,459.4 L850.1,460.9 L852.6,461.7 L855.5,461.5 L857.8,460.5 L860.4,460.2 L863.2,460.7 L866.1,459.7 L868.9,457.9 L871.7,457.2 L874.7,456.6 L877.7,454.9 L880.7,454.5 L883.7,452.5 L886.6,453.3 L889.3,452.2 L892.6,452.2 L895.6,454.3 L898.6,455.4 L901.5,457.8 L904.2,458.4 L906.9,459.1 L909.6,460.4 L912.4,459.3 L915.0,459.5 L917.7,458.4 L920.4,456.5 L923.1,456.3 L925.9,453.6 L928.6,454.3 L931.3,452.9 L934.0,454.0 L936.7,452.9 L939.4,452.3 L942.2,453.5 L944.9,455.4 L947.7,455.2 L950.4,455.9 L953.0,456.6 L955.8,455.9 L958.4,456.0 L961.1,454.6 L963.8,455.2 L966.4,456.5 L969.2,456.4 L971.9,456.4 L974.7,456.2 L977.4,457.6 L980.0,457.2 L982.6,457.7 L985.3,457.0 L988.0,454.7 L990.9,455.2 L993.8,455.3 L996.9,454.6 L1000.1,454.0 L1003.4,453.1 L1006.6,452.5 L1009.7,452.0 L1012.6,451.6 L1015.5,450.7 L1018.2,450.3 L1020.9,451.9 L1023.5,452.6 L1026.1,451.9 L1028.9,453.4 L1031.6,454.6 L1034.3,455.3 L1037.0,456.6 L1039.7,457.6 L1042.7,456.9 L1045.6,457.6 L1048.6,457.0 L1051.9,456.7 L1054.5,456.1 L1057.4,456.8 L1060.3,455.7 L1063.4,456.1 L1066.4,454.6 L1069.4,454.5 L1072.2,454.9 L1075.6,454.4 L1078.9,453.5 L1082.1,452.4 L1085.3,452.7 L1088.5,452.4 L1091.5,452.8 L1094.5,452.3 L1097.4,452.1 L1100.4,450.4 L1103.4,449.7 L1106.4,450.1 L1109.4,451.4 L1112.4,450.9 L1115.3,451.7 L1118.3,452.4 L1121.0,453.7 L1123.7,455.1 L1126.4,458.0 L1129.1,457.8 L1131.8,459.1 L1134.5,457.4 L1137.1,455.3 L1139.8,454.9 L1142.6,451.4 L1145.3,448.7 L1148.1,446.8 L1150.7,445.2 L1153.4,444.6 L1156.1,443.3 L1158.8,442.0 L1161.6,440.6 L1164.3,441.2 L1167.5,439.5 L1170.8,438.9 L1174.0,439.2 L1177.3,439.9 L1180.6,439.5 L1183.8,439.3 L1187.1,439.1 L1190.3,439.1 L1193.6,439.1 L1196.8,437.2 L1200.1,435.9 L1203.4,436.4 L1206.7,436.1 L1210.0,435.6 L1213.1,435.4 L1215.9,433.2 L1218.7,432.7 L1221.4,431.0 L1224.0,429.4 L1226.6,427.2 L1228.9,425.4 L1231.1,424.2 L1233.3,422.4 L1235.5,421.4 L1237.7,418.5 L1240.2,417.6 L1242.8,415.3 L1245.6,415.3 L1248.5,413.8 L1251.4,414.5 L1254.2,414.7 L1256.9,412.4 L1259.7,411.7 L1262.5,409.0 L1265.2,406.9 L1267.8,404.4 L1270.4,402.9 L1272.6,400.3 L1274.8,399.4 L1276.9,397.4 L1279.0,394.8 L1281.2,393.2 L1283.5,390.2 L1285.8,388.3 L1288.3,386.6 L1290.8,384.1 L1293.3,384.2 L1295.8,381.5 L1298.3,379.4 L1300.6,379.3 L1303.0,378.4 L1305.3,376.3 L1307.6,374.4 L1309.8,372.1 L1312.0,369.8 L1314.2,369.0 L1316.5,366.9 L1318.8,364.5 L1321.0,364.1 L1323.2,360.7 L1325.5,358.8 L1327.7,357.8 L1330.0,356.2 L1332.2,352.8 L1334.5,351.7 L1336.8,349.7 L1339.0,347.8 L1341.3,346.6 L1343.5,344.5 L1345.8,342.0 L1348.0,340.1 L1350.3,337.4 L1352.5,335.3 L1354.8,334.0 L1357.0,332.1 L1359.3,329.8 L1361.5,327.0 L1363.8,326.8 L1366.1,324.8 L1368.4,323.3 L1371.1,321.2 L1373.7,320.0 L1376.4,318.2 L1379.2,317.6 L1381.9,316.0 L1384.6,314.7 L1387.3,314.2 L1390.1,312.7 L1392.8,311.6 L1395.5,310.8 L1397.8,309.4 L1400.1,307.9 L1402.3,306.4 L1404.6,303.9 L1406.8,301.6 L1409.0,298.7 L1411.3,296.4 L1413.6,294.8 L1415.8,293.0 L1418.1,292.1 L1420.3,288.4 L1422.6,286.4 L1424.8,285.1 L1427.1,282.6 L1429.3,281.1 L1431.5,277.5 L1433.8,276.1 L1436.1,273.6 L1438.3,271.7 L1440.5,268.6 L1442.8,267.1 L1445.0,266.4 L1447.3,265.0 L1449.6,263.2 L1452.3,261.1 L1455.0,258.5 L1457.7,258.3 L1460.4,256.9 L1463.2,256.4 L1465.9,255.3 L1468.6,253.8 L1471.3,253.8 L1474.0,251.8 L1476.7,252.7 L1479.4,251.3 L1482.2,253.1 L1484.9,253.4 L1487.6,253.3 L1490.3,254.3 L1493.0,253.3 L1495.7,252.3 L1498.5,250.3 L1501.2,250.5 L1503.8,249.6 L1506.6,247.4 L1509.5,245.2 L1512.3,244.1 L1514.9,244.1 L1517.4,243.6 L1520.9,241.8 L1524.2,240.1 L1527.4,242.0 L1530.9,241.8 L1533.3,242.8 L1536.0,242.6 L1538.8,243.5 L1541.7,242.0 L1544.5,242.9 L1547.2,243.3 L1549.9,242.1 L1552.6,243.0 L1555.3,242.9 L1558.0,243.9 L1560.7,244.9 L1563.5,244.5 L1566.2,243.8 L1568.9,243.9 L1571.6,243.3 L1574.3,244.2 L1577.0,244.4 L1579.7,246.7 L1582.4,246.7 L1585.1,248.2 L1587.8,248.2 L1590.5,249.2 L1593.2,248.6 L1595.9,248.4 L1598.7,250.0 L1601.4,251.3 L1604.1,252.5 L1606.8,252.9 L1609.5,254.2 L1612.2,253.1 L1614.9,254.1 L1617.6,255.1 L1620.4,254.9 L1623.1,255.2 L1625.7,256.1 L1628.5,257.8 L1631.2,259.8 L1633.9,261.2 L1636.6,262.1 L1639.3,261.9 L1642.0,263.9 L1644.7,265.0 L1647.4,265.2 L1650.1,267.0 L1652.8,267.5 L1655.6,268.4 L1658.3,269.6 L1661.0,271.5 L1663.7,271.4 L1666.4,273.0 L1668.7,274.1 L1670.9,276.6 L1673.2,279.0 L1675.4,279.8 L1677.6,282.0 L1679.9,283.1 L1682.6,283.6 L1685.3,284.5 L1688.0,286.0 L1690.8,287.9 L1693.5,288.9 L1696.2,288.7 L1698.9,291.3 L1701.6,292.7 L1704.3,293.8 L1707.0,294.5 L1709.7,296.1 L1712.5,298.1 L1715.2,298.7 L1717.9,299.5 L1720.6,302.4 L1723.3,303.6 L1726.0,304.2 L1728.7,307.4 L1731.4,307.9 L1734.1,309.4 L1736.8,311.4 L1739.5,313.1 L1742.2,315.0 L1744.9,314.5 L1747.7,315.6 L1750.3,316.7 L1753.1,316.1 L1755.8,316.2 L1758.5,315.6 L1761.2,316.1 L1763.9,317.2 L1766.7,316.5 L1769.4,317.4 L1772.1,317.3 L1774.8,319.1 L1777.5,320.4 L1780.1,322.0 L1782.8,323.7 L1785.5,324.5 L1788.3,326.5 L1791.0,325.9 L1793.8,327.2 L1796.7,327.1 L1799.5,328.8 L1802.3,330.4 L1805.0,330.7 L1807.8,332.9 L1810.5,333.6 L1813.1,334.1 L1815.7,335.0 L1818.1,336.9 L1821.1,338.4 L1823.8,339.0 L1827.1,340.2 L1829.7,342.0 L1832.6,341.1 L1835.8,340.8 L1839.1,339.5 L1842.4,337.8 L1845.7,338.2 L1848.8,337.8 L1851.5,337.9 L1854.2,339.9 L1856.8,341.7 L1859.4,341.7 L1862.1,344.8 L1864.8,344.6 L1867.7,345.5 L1870.5,346.6 L1873.5,348.6 L1876.5,349.8 L1879.6,350.6 L1882.7,350.7 L1885.8,352.2 L1888.9,351.4 L1891.9,353.5 L1894.8,352.8 L1897.7,353.3 L1900.5,355.6 L1903.4,357.4 L1906.1,358.6 L1908.8,358.7 L1911.5,360.7 L1914.0,361.3 L1916.5,361.0 L1919.4,361.0 L1922.1,363.3 L1924.8,362.2 L1927.4,362.0 L1930.0,362.1 L1932.8,362.9 L1935.5,362.2 L1938.2,361.2 L1940.9,359.9 L1943.6,358.1 L1946.3,359.9 L1949.0,360.7 L1951.7,364.1 L1954.4,366.8 L1957.1,366.6 L1959.8,368.8 L1962.5,369.3 L1965.2,369.9 L1968.0,372.4 L1970.7,372.4 L1973.4,371.6 L1976.0,371.2 L1978.7,369.0 L1981.4,368.4 L1984.2,368.4 L1987.4,368.9 L1990.8,367.3 L1994.2,368.5 L1997.4,367.3 L2000.5,367.4 L2003.3,368.4 L2005.8,369.3 L2008.4,370.1 L2011.3,372.1 L2014.0,372.1 L2017.0,371.2 L2020.1,371.2 L2023.4,369.8 L2026.7,370.2 L2029.9,370.9 L2033.0,370.1 L2036.2,370.1 L2039.4,370.5 L2042.6,371.2 L2045.7,372.2 L2048.8,372.4 L2052.0,372.8 L2055.2,374.0 L2058.6,373.9 L2062.1,372.7 L2065.4,372.2 L2068.4,373.3 L2070.9,372.1 L2073.4,371.6 L2075.4,369.8 L2077.7,368.9 L2079.9,368.8 L2082.3,370.4 L2084.9,372.1 L2087.5,374.3 L2090.1,377.4 L2092.6,377.4 L2095.4,378.4 L2098.1,381.1 L2100.8,382.8 L2103.4,383.2 L2106.1,382.6 L2108.8,379.4 L2111.5,378.6 L2114.3,377.1 L2116.5,379.1 L2118.7,380.1 L2121.0,382.2 L2123.3,384.6 L2125.7,386.1 L2128.1,388.5 L2130.5,390.8 L2133.7,391.2 L2136.9,391.3 L2140.1,391.2 L2143.4,390.6 L2146.8,390.4 L2149.9,391.5 L2153.0,391.8 L2156.2,390.1 L2159.4,388.7 L2162.6,388.1 L2165.7,389.3 L2168.4,388.8 L2171.1,388.9 L2173.8,389.9 L2176.4,390.5 L2179.1,391.4 L2181.9,392.3 L2184.7,393.9 L2187.6,395.1 L2190.6,393.7 L2193.6,392.8 L2196.7,392.7 L2199.8,391.0 L2202.9,390.2 L2206.0,390.9 L2209.1,391.1 L2212.1,391.2 L2215.2,391.8 L2218.2,391.6 L2221.2,392.6 L2224.2,393.4 L2227.3,394.3 L2230.4,394.7 L2233.5,396.8 L2236.4,396.0 L2239.4,396.6 L2242.4,396.4 L2245.4,396.4 L2248.4,397.8 L2251.5,398.9 L2254.5,399.5 L2257.6,398.3 L2260.6,398.4 L2263.6,398.3 L2266.7,397.5 L2269.9,398.0 L2273.1,398.8 L2276.2,398.8 L2279.2,399.9 L2282.2,399.8 L2285.0,399.8 L2287.7,401.6 L2290.7,402.4 L2293.4,403.0 L2296.0,405.6 L2298.5,406.7 L2301.2,408.2 L2303.9,409.1 L2306.9,410.8 L2310.0,411.7 L2313.2,411.7 L2316.4,411.8 L2319.6,413.1 L2322.9,414.1 L2326.0,414.3 L2329.3,415.2 L2332.6,415.1 L2335.9,415.0 L2339.2,414.8 L2342.3,414.8 L2345.1,414.6 L2348.9,416.4 L2352.8,416.2 L2355.9,414.9 L2357.1,414.7" stroke="#ff43a8" stroke-width="19.6"/>
<ellipse cx="193" cy="809" rx="12.5" ry="22.5" fill="#00ff00" stroke="none"/>
<rect x="193" y="75" width="9" height="1717" fill="#000" opacity="0.07"/>
<rect x="2335" y="75" width="10" height="1717" fill="#000" opacity="0.07"/>
</g>
<g id="regions" stroke="#000" clip-path="url(#inner)"><rect x="200" y="302.5" width="844.5" height="1491" fill="#ffc637" fill-opacity="0.035" stroke-opacity="0.04" stroke-width="3"/><rect x="1051" y="124.2" width="591.5" height="1667" fill="#ffb4cd" fill-opacity="0.08" stroke-opacity="0.085" stroke-width="3.2"/><rect x="1659" y="224.8" width="667.3" height="1561.5" fill="#5faf4b" fill-opacity="0.05" stroke-opacity="0.035" stroke-width="3"/></g>
<g id="dots"><line x1="1052" y1="114.0" x2="1052" y2="1792" stroke="#000" stroke-width="6.2" stroke-dasharray="7.8 5.53"/><line x1="1652" y1="122.1" x2="1652" y2="1792" stroke="#000" stroke-width="6.2" stroke-dasharray="7.8 5.53"/></g>
<g id="arrow" fill="#3348ff"><line x1="1734.6" y1="898.4" x2="1835.3" y2="781.3" stroke="#3348ff" stroke-width="12.4" opacity="0.7"/><polygon points="1807.2,775 1841.6,804.7 1872.8,740.6 1862.7,732.8" opacity="0.68"/><polygon points="1817.3,775.8 1839.2,794.5 1868.9,737.5 1865,735.2" opacity="0.68"/></g>
<rect x="184.2" y="1801" width="17.8" height="17.6" fill="#000"/>
<rect x="379.2" y="1801" width="18.8" height="34.7" fill="#000"/>
<rect x="574.8" y="1801" width="18.8" height="17.6" fill="#000"/>
<rect x="770.4" y="1801" width="18.8" height="34.7" fill="#000"/>
<rect x="966.0" y="1801" width="18.8" height="17.6" fill="#000"/>
<rect x="1161.6" y="1801" width="18.8" height="34.7" fill="#000"/>
<rect x="1357.2" y="1801" width="18.8" height="17.6" fill="#000"/>
<rect x="1552.8" y="1801" width="18.8" height="34.7" fill="#000"/>
<rect x="1748.4" y="1801" width="18.8" height="17.6" fill="#000"/>
<rect x="1944.0" y="1801" width="18.8" height="34.7" fill="#000"/>
<rect x="2139.6" y="1801" width="18.8" height="17.6" fill="#000"/>
<rect x="2335.0" y="1801" width="18.2" height="34.7" fill="#000"/>
<text x="388.3" y="1960" font-size="131" text-anchor="middle" font-family="'Liberation Serif', serif" font-weight="bold">100</text>
<text x="779.5" y="1960" font-size="131" text-anchor="middle" font-family="'Liberation Serif', serif" font-weight="bold">200</text>
<text x="1170.7" y="1960" font-size="131" text-anchor="middle" font-family="'Liberation Serif', serif" font-weight="bold">300</text>
<text x="1561.9" y="1960" font-size="131" text-anchor="middle" font-family="'Liberation Serif', serif" font-weight="bold">400</text>
<text x="1953.1" y="1960" font-size="131" text-anchor="middle" font-family="'Liberation Serif', serif" font-weight="bold">500</text>
<text x="2344.3" y="1960" font-size="131" text-anchor="middle" font-family="'Liberation Serif', serif" font-weight="bold">600</text>
<text x="1271" y="2092.5" font-size="130.5" text-anchor="middle" font-family="'Liberation Serif', serif" font-weight="bold">Temperature (°C)</text>
<text transform="translate(126.5,938.5) rotate(-90)" font-size="131.4" text-anchor="middle" font-family="'Liberation Serif', serif" font-weight="bold">Intensity (a.u.)</text>
<text x="214" y="592" font-size="129.3" font-family="'Liberation Serif', serif" font-weight="bold">MoS<tspan font-size="87" dy="34.5">2</tspan><tspan dy="-34.5">/Ni</tspan><tspan font-size="87" dy="34.5">0.5</tspan></text>
<text x="210" y="803" font-size="129.3" font-family="'Liberation Serif', serif" font-weight="bold">MoS<tspan font-size="87" dy="34.5">2</tspan><tspan dy="-34.5">/Ni</tspan><tspan font-size="87" dy="34.5">0.3</tspan></text>
<text x="206" y="1221.5" font-size="129.3" font-family="'Liberation Serif', serif" font-weight="bold">MoS<tspan font-size="87" dy="34.5">2</tspan><tspan dy="-34.5">/Ni</tspan><tspan font-size="87" dy="34.5">0.2</tspan></text>
<text x="206" y="1546" font-size="129.3" font-family="'Liberation Serif', serif" font-weight="bold">MoS<tspan font-size="87" dy="34.5">2</tspan><tspan dy="-34.5">/Ni</tspan><tspan font-size="87" dy="34.5">0.1</tspan></text>
<text x="606" y="410.5" font-size="131" text-anchor="middle" font-family="'Liberation Serif', serif" font-weight="bold">α</text>
<text x="1494.5" y="208.5" font-size="128" text-anchor="middle" font-family="'Liberation Serif', serif" font-weight="bold">β</text>
<text x="2007" y="316" font-size="133" text-anchor="middle" font-family="'Liberation Serif', serif" font-weight="bold">γ</text>
</svg>
</body></html>
